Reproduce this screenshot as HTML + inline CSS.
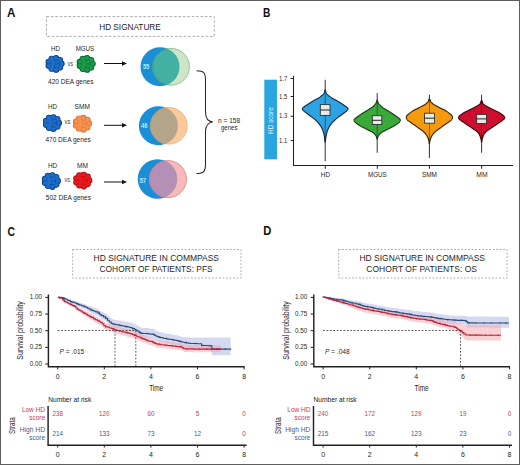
<!DOCTYPE html>
<html><head><meta charset="utf-8"><style>
html,body{margin:0;padding:0;background:#fff;}
svg{display:block;}
text{font-family:"Liberation Sans", sans-serif;}
</style></head><body>
<svg width="520" height="465" viewBox="0 0 520 465">
<rect x="0.5" y="0.5" width="519" height="464" fill="#fff" stroke="#5e5e5e" stroke-width="1"/>
<text x="7.00" y="16.60" font-size="12" fill="#111" font-weight="bold" textLength="8.40" lengthAdjust="spacingAndGlyphs" >A</text>
<text x="263.00" y="16.60" font-size="12" fill="#111" font-weight="bold" textLength="7.40" lengthAdjust="spacingAndGlyphs" >B</text>
<text x="7.50" y="235.90" font-size="12" fill="#111" font-weight="bold" textLength="7.50" lengthAdjust="spacingAndGlyphs" >C</text>
<text x="263.20" y="235.30" font-size="12" fill="#111" font-weight="bold" textLength="8.10" lengthAdjust="spacingAndGlyphs" >D</text>
<rect x="46.5" y="16.6" width="167.8" height="19.8" fill="none" stroke="#a4a4a4" stroke-width="0.9" stroke-dasharray="2.6 1.8"/>
<text x="99.20" y="29.60" font-size="9" fill="#262626" font-weight="normal" textLength="61.60" lengthAdjust="spacingAndGlyphs" >HD SIGNATURE</text>
<text x="51.00" y="51.00" font-size="7" fill="#262626" font-weight="normal" textLength="9.00" lengthAdjust="spacingAndGlyphs" >HD</text>
<text x="75.70" y="51.00" font-size="7" fill="#262626" font-weight="normal" textLength="18.50" lengthAdjust="spacingAndGlyphs" >MGUS</text>
<circle cx="48.70" cy="61.80" r="3.15" fill="#0a3a80"/><circle cx="51.60" cy="58.81" r="3.15" fill="#0a3a80"/><circle cx="56.05" cy="58.14" r="3.15" fill="#0a3a80"/><circle cx="59.96" cy="60.09" r="3.15" fill="#0a3a80"/><circle cx="61.50" cy="63.75" r="3.15" fill="#0a3a80"/><circle cx="59.96" cy="67.41" r="3.15" fill="#0a3a80"/><circle cx="56.10" cy="69.64" r="3.15" fill="#0a3a80"/><circle cx="51.60" cy="68.69" r="3.15" fill="#0a3a80"/><circle cx="48.70" cy="65.70" r="3.15" fill="#0a3a80"/><circle cx="52.70" cy="62.15" r="3.15" fill="#0a3a80"/><circle cx="57.10" cy="62.15" r="3.15" fill="#0a3a80"/><circle cx="52.70" cy="65.55" r="3.15" fill="#0a3a80"/><circle cx="57.10" cy="65.55" r="3.15" fill="#0a3a80"/><circle cx="54.90" cy="63.75" r="3.15" fill="#0a3a80"/><circle cx="48.70" cy="61.80" r="2.45" fill="#1c6fca"/><circle cx="51.60" cy="58.81" r="2.45" fill="#1c6fca"/><circle cx="56.05" cy="58.14" r="2.45" fill="#1c6fca"/><circle cx="59.96" cy="60.09" r="2.45" fill="#1c6fca"/><circle cx="61.50" cy="63.75" r="2.45" fill="#1c6fca"/><circle cx="59.96" cy="67.41" r="2.45" fill="#1c6fca"/><circle cx="56.10" cy="69.64" r="2.45" fill="#1c6fca"/><circle cx="51.60" cy="68.69" r="2.45" fill="#1c6fca"/><circle cx="48.70" cy="65.70" r="2.45" fill="#1c6fca"/><circle cx="52.70" cy="62.15" r="2.45" fill="#1c6fca"/><circle cx="57.10" cy="62.15" r="2.45" fill="#1c6fca"/><circle cx="52.70" cy="65.55" r="2.45" fill="#1c6fca"/><circle cx="57.10" cy="65.55" r="2.45" fill="#1c6fca"/><circle cx="54.90" cy="63.75" r="2.45" fill="#1c6fca"/><circle cx="48.70" cy="61.80" r="2.3" fill="none" stroke="#0a3a80" stroke-width="0.5" opacity="0.5"/><circle cx="56.05" cy="58.14" r="2.3" fill="none" stroke="#0a3a80" stroke-width="0.5" opacity="0.5"/><circle cx="61.50" cy="63.75" r="2.3" fill="none" stroke="#0a3a80" stroke-width="0.5" opacity="0.5"/><circle cx="56.10" cy="69.64" r="2.3" fill="none" stroke="#0a3a80" stroke-width="0.5" opacity="0.5"/><circle cx="48.70" cy="65.70" r="2.3" fill="none" stroke="#0a3a80" stroke-width="0.5" opacity="0.5"/><circle cx="57.10" cy="62.15" r="2.3" fill="none" stroke="#0a3a80" stroke-width="0.5" opacity="0.5"/><circle cx="57.10" cy="65.55" r="2.3" fill="none" stroke="#0a3a80" stroke-width="0.5" opacity="0.5"/>
<circle cx="79.80" cy="61.85" r="3.15" fill="#085a28"/><circle cx="82.70" cy="58.86" r="3.15" fill="#085a28"/><circle cx="87.15" cy="58.19" r="3.15" fill="#085a28"/><circle cx="91.06" cy="60.14" r="3.15" fill="#085a28"/><circle cx="92.60" cy="63.80" r="3.15" fill="#085a28"/><circle cx="91.06" cy="67.46" r="3.15" fill="#085a28"/><circle cx="87.20" cy="69.69" r="3.15" fill="#085a28"/><circle cx="82.70" cy="68.74" r="3.15" fill="#085a28"/><circle cx="79.80" cy="65.75" r="3.15" fill="#085a28"/><circle cx="83.80" cy="62.20" r="3.15" fill="#085a28"/><circle cx="88.20" cy="62.20" r="3.15" fill="#085a28"/><circle cx="83.80" cy="65.60" r="3.15" fill="#085a28"/><circle cx="88.20" cy="65.60" r="3.15" fill="#085a28"/><circle cx="86.00" cy="63.80" r="3.15" fill="#085a28"/><circle cx="79.80" cy="61.85" r="2.45" fill="#1a9c4a"/><circle cx="82.70" cy="58.86" r="2.45" fill="#1a9c4a"/><circle cx="87.15" cy="58.19" r="2.45" fill="#1a9c4a"/><circle cx="91.06" cy="60.14" r="2.45" fill="#1a9c4a"/><circle cx="92.60" cy="63.80" r="2.45" fill="#1a9c4a"/><circle cx="91.06" cy="67.46" r="2.45" fill="#1a9c4a"/><circle cx="87.20" cy="69.69" r="2.45" fill="#1a9c4a"/><circle cx="82.70" cy="68.74" r="2.45" fill="#1a9c4a"/><circle cx="79.80" cy="65.75" r="2.45" fill="#1a9c4a"/><circle cx="83.80" cy="62.20" r="2.45" fill="#1a9c4a"/><circle cx="88.20" cy="62.20" r="2.45" fill="#1a9c4a"/><circle cx="83.80" cy="65.60" r="2.45" fill="#1a9c4a"/><circle cx="88.20" cy="65.60" r="2.45" fill="#1a9c4a"/><circle cx="86.00" cy="63.80" r="2.45" fill="#1a9c4a"/><circle cx="79.80" cy="61.85" r="2.3" fill="none" stroke="#085a28" stroke-width="0.5" opacity="0.5"/><circle cx="87.15" cy="58.19" r="2.3" fill="none" stroke="#085a28" stroke-width="0.5" opacity="0.5"/><circle cx="92.60" cy="63.80" r="2.3" fill="none" stroke="#085a28" stroke-width="0.5" opacity="0.5"/><circle cx="87.20" cy="69.69" r="2.3" fill="none" stroke="#085a28" stroke-width="0.5" opacity="0.5"/><circle cx="79.80" cy="65.75" r="2.3" fill="none" stroke="#085a28" stroke-width="0.5" opacity="0.5"/><circle cx="88.20" cy="62.20" r="2.3" fill="none" stroke="#085a28" stroke-width="0.5" opacity="0.5"/><circle cx="88.20" cy="65.60" r="2.3" fill="none" stroke="#085a28" stroke-width="0.5" opacity="0.5"/>
<text x="67.40" y="66.20" font-size="7" fill="#444" font-weight="normal" textLength="5.60" lengthAdjust="spacingAndGlyphs" >vs</text>
<text x="48.00" y="84.40" font-size="7" fill="#262626" font-weight="normal" textLength="45.50" lengthAdjust="spacingAndGlyphs" >420 DEA genes</text>
<line x1="104" y1="63.5" x2="123" y2="63.5" stroke="#111" stroke-width="1"/>
<path d="M127,63.5 L122,61.2 L122,65.8 Z" fill="#111"/>
<defs><clipPath id="vc0"><circle cx="160.0" cy="66.8" r="19.5"/></clipPath></defs>
<circle cx="160.0" cy="66.8" r="19.5" fill="#1b8fd6"/>
<circle cx="171.0" cy="66.8" r="18.400000000000002" fill="#cfe5c9" stroke="#8cbc8c" stroke-width="0.9"/>
<circle cx="171.0" cy="66.8" r="18.400000000000002" fill="#44b0a4" stroke="#2a9a8e" stroke-width="0.9" clip-path="url(#vc0)"/>
<text x="142.90" y="69.20" font-size="7" fill="#b0eaff" font-weight="bold" textLength="6.40" lengthAdjust="spacingAndGlyphs" >55</text>
<text x="48.00" y="108.70" font-size="7" fill="#262626" font-weight="normal" textLength="9.00" lengthAdjust="spacingAndGlyphs" >HD</text>
<text x="74.60" y="108.70" font-size="7" fill="#262626" font-weight="normal" textLength="15.40" lengthAdjust="spacingAndGlyphs" >SMM</text>
<circle cx="46.10" cy="120.95" r="3.15" fill="#0a3a80"/><circle cx="49.00" cy="117.96" r="3.15" fill="#0a3a80"/><circle cx="53.45" cy="117.29" r="3.15" fill="#0a3a80"/><circle cx="57.36" cy="119.24" r="3.15" fill="#0a3a80"/><circle cx="58.90" cy="122.90" r="3.15" fill="#0a3a80"/><circle cx="57.36" cy="126.56" r="3.15" fill="#0a3a80"/><circle cx="53.50" cy="128.79" r="3.15" fill="#0a3a80"/><circle cx="49.00" cy="127.84" r="3.15" fill="#0a3a80"/><circle cx="46.10" cy="124.85" r="3.15" fill="#0a3a80"/><circle cx="50.10" cy="121.30" r="3.15" fill="#0a3a80"/><circle cx="54.50" cy="121.30" r="3.15" fill="#0a3a80"/><circle cx="50.10" cy="124.70" r="3.15" fill="#0a3a80"/><circle cx="54.50" cy="124.70" r="3.15" fill="#0a3a80"/><circle cx="52.30" cy="122.90" r="3.15" fill="#0a3a80"/><circle cx="46.10" cy="120.95" r="2.45" fill="#1c6fca"/><circle cx="49.00" cy="117.96" r="2.45" fill="#1c6fca"/><circle cx="53.45" cy="117.29" r="2.45" fill="#1c6fca"/><circle cx="57.36" cy="119.24" r="2.45" fill="#1c6fca"/><circle cx="58.90" cy="122.90" r="2.45" fill="#1c6fca"/><circle cx="57.36" cy="126.56" r="2.45" fill="#1c6fca"/><circle cx="53.50" cy="128.79" r="2.45" fill="#1c6fca"/><circle cx="49.00" cy="127.84" r="2.45" fill="#1c6fca"/><circle cx="46.10" cy="124.85" r="2.45" fill="#1c6fca"/><circle cx="50.10" cy="121.30" r="2.45" fill="#1c6fca"/><circle cx="54.50" cy="121.30" r="2.45" fill="#1c6fca"/><circle cx="50.10" cy="124.70" r="2.45" fill="#1c6fca"/><circle cx="54.50" cy="124.70" r="2.45" fill="#1c6fca"/><circle cx="52.30" cy="122.90" r="2.45" fill="#1c6fca"/><circle cx="46.10" cy="120.95" r="2.3" fill="none" stroke="#0a3a80" stroke-width="0.5" opacity="0.5"/><circle cx="53.45" cy="117.29" r="2.3" fill="none" stroke="#0a3a80" stroke-width="0.5" opacity="0.5"/><circle cx="58.90" cy="122.90" r="2.3" fill="none" stroke="#0a3a80" stroke-width="0.5" opacity="0.5"/><circle cx="53.50" cy="128.79" r="2.3" fill="none" stroke="#0a3a80" stroke-width="0.5" opacity="0.5"/><circle cx="46.10" cy="124.85" r="2.3" fill="none" stroke="#0a3a80" stroke-width="0.5" opacity="0.5"/><circle cx="54.50" cy="121.30" r="2.3" fill="none" stroke="#0a3a80" stroke-width="0.5" opacity="0.5"/><circle cx="54.50" cy="124.70" r="2.3" fill="none" stroke="#0a3a80" stroke-width="0.5" opacity="0.5"/>
<circle cx="76.10" cy="121.55" r="3.15" fill="#d96a2a"/><circle cx="79.00" cy="118.56" r="3.15" fill="#d96a2a"/><circle cx="83.45" cy="117.89" r="3.15" fill="#d96a2a"/><circle cx="87.36" cy="119.84" r="3.15" fill="#d96a2a"/><circle cx="88.90" cy="123.50" r="3.15" fill="#d96a2a"/><circle cx="87.36" cy="127.16" r="3.15" fill="#d96a2a"/><circle cx="83.50" cy="129.39" r="3.15" fill="#d96a2a"/><circle cx="79.00" cy="128.44" r="3.15" fill="#d96a2a"/><circle cx="76.10" cy="125.45" r="3.15" fill="#d96a2a"/><circle cx="80.10" cy="121.90" r="3.15" fill="#d96a2a"/><circle cx="84.50" cy="121.90" r="3.15" fill="#d96a2a"/><circle cx="80.10" cy="125.30" r="3.15" fill="#d96a2a"/><circle cx="84.50" cy="125.30" r="3.15" fill="#d96a2a"/><circle cx="82.30" cy="123.50" r="3.15" fill="#d96a2a"/><circle cx="76.10" cy="121.55" r="2.45" fill="#f7934f"/><circle cx="79.00" cy="118.56" r="2.45" fill="#f7934f"/><circle cx="83.45" cy="117.89" r="2.45" fill="#f7934f"/><circle cx="87.36" cy="119.84" r="2.45" fill="#f7934f"/><circle cx="88.90" cy="123.50" r="2.45" fill="#f7934f"/><circle cx="87.36" cy="127.16" r="2.45" fill="#f7934f"/><circle cx="83.50" cy="129.39" r="2.45" fill="#f7934f"/><circle cx="79.00" cy="128.44" r="2.45" fill="#f7934f"/><circle cx="76.10" cy="125.45" r="2.45" fill="#f7934f"/><circle cx="80.10" cy="121.90" r="2.45" fill="#f7934f"/><circle cx="84.50" cy="121.90" r="2.45" fill="#f7934f"/><circle cx="80.10" cy="125.30" r="2.45" fill="#f7934f"/><circle cx="84.50" cy="125.30" r="2.45" fill="#f7934f"/><circle cx="82.30" cy="123.50" r="2.45" fill="#f7934f"/><circle cx="76.10" cy="121.55" r="2.3" fill="none" stroke="#d96a2a" stroke-width="0.5" opacity="0.5"/><circle cx="83.45" cy="117.89" r="2.3" fill="none" stroke="#d96a2a" stroke-width="0.5" opacity="0.5"/><circle cx="88.90" cy="123.50" r="2.3" fill="none" stroke="#d96a2a" stroke-width="0.5" opacity="0.5"/><circle cx="83.50" cy="129.39" r="2.3" fill="none" stroke="#d96a2a" stroke-width="0.5" opacity="0.5"/><circle cx="76.10" cy="125.45" r="2.3" fill="none" stroke="#d96a2a" stroke-width="0.5" opacity="0.5"/><circle cx="84.50" cy="121.90" r="2.3" fill="none" stroke="#d96a2a" stroke-width="0.5" opacity="0.5"/><circle cx="84.50" cy="125.30" r="2.3" fill="none" stroke="#d96a2a" stroke-width="0.5" opacity="0.5"/>
<text x="64.60" y="123.60" font-size="7" fill="#444" font-weight="normal" textLength="5.90" lengthAdjust="spacingAndGlyphs" >vs</text>
<text x="45.40" y="142.20" font-size="7" fill="#262626" font-weight="normal" textLength="45.40" lengthAdjust="spacingAndGlyphs" >470 DEA genes</text>
<line x1="104" y1="125.3" x2="123" y2="125.3" stroke="#111" stroke-width="1"/>
<path d="M127,125.3 L122,123.0 L122,127.6 Z" fill="#111"/>
<defs><clipPath id="vc1"><circle cx="158.4" cy="125.8" r="19.5"/></clipPath></defs>
<circle cx="158.4" cy="125.8" r="19.5" fill="#1b8fd6"/>
<circle cx="168.9" cy="125.8" r="18.3" fill="#fcc99a" stroke="#f0b07e" stroke-width="0.9"/>
<circle cx="168.9" cy="125.8" r="18.3" fill="#b3a68a" stroke="#c09a7a" stroke-width="0.9" clip-path="url(#vc1)"/>
<text x="141.00" y="128.20" font-size="7" fill="#b0eaff" font-weight="bold" textLength="6.70" lengthAdjust="spacingAndGlyphs" >46</text>
<text x="48.00" y="167.90" font-size="7" fill="#262626" font-weight="normal" textLength="9.20" lengthAdjust="spacingAndGlyphs" >HD</text>
<text x="77.00" y="167.90" font-size="7" fill="#262626" font-weight="normal" textLength="11.00" lengthAdjust="spacingAndGlyphs" >MM</text>
<circle cx="45.00" cy="178.95" r="3.15" fill="#0a3a80"/><circle cx="47.90" cy="175.96" r="3.15" fill="#0a3a80"/><circle cx="52.35" cy="175.29" r="3.15" fill="#0a3a80"/><circle cx="56.26" cy="177.24" r="3.15" fill="#0a3a80"/><circle cx="57.80" cy="180.90" r="3.15" fill="#0a3a80"/><circle cx="56.26" cy="184.56" r="3.15" fill="#0a3a80"/><circle cx="52.40" cy="186.79" r="3.15" fill="#0a3a80"/><circle cx="47.90" cy="185.84" r="3.15" fill="#0a3a80"/><circle cx="45.00" cy="182.85" r="3.15" fill="#0a3a80"/><circle cx="49.00" cy="179.30" r="3.15" fill="#0a3a80"/><circle cx="53.40" cy="179.30" r="3.15" fill="#0a3a80"/><circle cx="49.00" cy="182.70" r="3.15" fill="#0a3a80"/><circle cx="53.40" cy="182.70" r="3.15" fill="#0a3a80"/><circle cx="51.20" cy="180.90" r="3.15" fill="#0a3a80"/><circle cx="45.00" cy="178.95" r="2.45" fill="#1c6fca"/><circle cx="47.90" cy="175.96" r="2.45" fill="#1c6fca"/><circle cx="52.35" cy="175.29" r="2.45" fill="#1c6fca"/><circle cx="56.26" cy="177.24" r="2.45" fill="#1c6fca"/><circle cx="57.80" cy="180.90" r="2.45" fill="#1c6fca"/><circle cx="56.26" cy="184.56" r="2.45" fill="#1c6fca"/><circle cx="52.40" cy="186.79" r="2.45" fill="#1c6fca"/><circle cx="47.90" cy="185.84" r="2.45" fill="#1c6fca"/><circle cx="45.00" cy="182.85" r="2.45" fill="#1c6fca"/><circle cx="49.00" cy="179.30" r="2.45" fill="#1c6fca"/><circle cx="53.40" cy="179.30" r="2.45" fill="#1c6fca"/><circle cx="49.00" cy="182.70" r="2.45" fill="#1c6fca"/><circle cx="53.40" cy="182.70" r="2.45" fill="#1c6fca"/><circle cx="51.20" cy="180.90" r="2.45" fill="#1c6fca"/><circle cx="45.00" cy="178.95" r="2.3" fill="none" stroke="#0a3a80" stroke-width="0.5" opacity="0.5"/><circle cx="52.35" cy="175.29" r="2.3" fill="none" stroke="#0a3a80" stroke-width="0.5" opacity="0.5"/><circle cx="57.80" cy="180.90" r="2.3" fill="none" stroke="#0a3a80" stroke-width="0.5" opacity="0.5"/><circle cx="52.40" cy="186.79" r="2.3" fill="none" stroke="#0a3a80" stroke-width="0.5" opacity="0.5"/><circle cx="45.00" cy="182.85" r="2.3" fill="none" stroke="#0a3a80" stroke-width="0.5" opacity="0.5"/><circle cx="53.40" cy="179.30" r="2.3" fill="none" stroke="#0a3a80" stroke-width="0.5" opacity="0.5"/><circle cx="53.40" cy="182.70" r="2.3" fill="none" stroke="#0a3a80" stroke-width="0.5" opacity="0.5"/>
<circle cx="76.40" cy="178.45" r="3.15" fill="#a00a10"/><circle cx="79.30" cy="175.46" r="3.15" fill="#a00a10"/><circle cx="83.75" cy="174.79" r="3.15" fill="#a00a10"/><circle cx="87.66" cy="176.74" r="3.15" fill="#a00a10"/><circle cx="89.20" cy="180.40" r="3.15" fill="#a00a10"/><circle cx="87.66" cy="184.06" r="3.15" fill="#a00a10"/><circle cx="83.80" cy="186.29" r="3.15" fill="#a00a10"/><circle cx="79.30" cy="185.34" r="3.15" fill="#a00a10"/><circle cx="76.40" cy="182.35" r="3.15" fill="#a00a10"/><circle cx="80.40" cy="178.80" r="3.15" fill="#a00a10"/><circle cx="84.80" cy="178.80" r="3.15" fill="#a00a10"/><circle cx="80.40" cy="182.20" r="3.15" fill="#a00a10"/><circle cx="84.80" cy="182.20" r="3.15" fill="#a00a10"/><circle cx="82.60" cy="180.40" r="3.15" fill="#a00a10"/><circle cx="76.40" cy="178.45" r="2.45" fill="#ec1a1e"/><circle cx="79.30" cy="175.46" r="2.45" fill="#ec1a1e"/><circle cx="83.75" cy="174.79" r="2.45" fill="#ec1a1e"/><circle cx="87.66" cy="176.74" r="2.45" fill="#ec1a1e"/><circle cx="89.20" cy="180.40" r="2.45" fill="#ec1a1e"/><circle cx="87.66" cy="184.06" r="2.45" fill="#ec1a1e"/><circle cx="83.80" cy="186.29" r="2.45" fill="#ec1a1e"/><circle cx="79.30" cy="185.34" r="2.45" fill="#ec1a1e"/><circle cx="76.40" cy="182.35" r="2.45" fill="#ec1a1e"/><circle cx="80.40" cy="178.80" r="2.45" fill="#ec1a1e"/><circle cx="84.80" cy="178.80" r="2.45" fill="#ec1a1e"/><circle cx="80.40" cy="182.20" r="2.45" fill="#ec1a1e"/><circle cx="84.80" cy="182.20" r="2.45" fill="#ec1a1e"/><circle cx="82.60" cy="180.40" r="2.45" fill="#ec1a1e"/><circle cx="76.40" cy="178.45" r="2.3" fill="none" stroke="#a00a10" stroke-width="0.5" opacity="0.5"/><circle cx="83.75" cy="174.79" r="2.3" fill="none" stroke="#a00a10" stroke-width="0.5" opacity="0.5"/><circle cx="89.20" cy="180.40" r="2.3" fill="none" stroke="#a00a10" stroke-width="0.5" opacity="0.5"/><circle cx="83.80" cy="186.29" r="2.3" fill="none" stroke="#a00a10" stroke-width="0.5" opacity="0.5"/><circle cx="76.40" cy="182.35" r="2.3" fill="none" stroke="#a00a10" stroke-width="0.5" opacity="0.5"/><circle cx="84.80" cy="178.80" r="2.3" fill="none" stroke="#a00a10" stroke-width="0.5" opacity="0.5"/><circle cx="84.80" cy="182.20" r="2.3" fill="none" stroke="#a00a10" stroke-width="0.5" opacity="0.5"/>
<text x="64.60" y="182.40" font-size="7" fill="#444" font-weight="normal" textLength="5.40" lengthAdjust="spacingAndGlyphs" >vs</text>
<text x="45.80" y="200.40" font-size="7" fill="#262626" font-weight="normal" textLength="45.20" lengthAdjust="spacingAndGlyphs" >502 DEA genes</text>
<line x1="104" y1="182.0" x2="123" y2="182.0" stroke="#111" stroke-width="1"/>
<path d="M127,182.0 L122,179.7 L122,184.3 Z" fill="#111"/>
<defs><clipPath id="vc2"><circle cx="157.5" cy="179.0" r="19.8"/></clipPath></defs>
<circle cx="157.5" cy="179.0" r="19.8" fill="#1b8fd6"/>
<circle cx="168.0" cy="179.1" r="18.5" fill="#f8b9ba" stroke="#e08a8c" stroke-width="0.9"/>
<circle cx="168.0" cy="179.1" r="18.5" fill="#b48fb6" stroke="#c8789a" stroke-width="0.9" clip-path="url(#vc2)"/>
<text x="139.50" y="183.00" font-size="7" fill="#b0eaff" font-weight="bold" textLength="6.70" lengthAdjust="spacingAndGlyphs" >57</text>
<path d="M196.6,70.8 C203.5,70.8 205.5,72.5 205.5,80 L205.5,112 C205.5,118 207.5,121.5 212.8,121.9 C207.5,122.3 205.5,126 205.5,132 L205.5,164 C205.5,171.5 203.5,173.5 196.6,173.5" fill="none" stroke="#2a2a2a" stroke-width="1.05"/>
<text x="218.00" y="123.30" font-size="6.5" fill="#262626" font-weight="normal" textLength="22.20" lengthAdjust="spacingAndGlyphs" >n = 158</text>
<text x="221.00" y="130.30" font-size="6.5" fill="#262626" font-weight="normal" textLength="16.50" lengthAdjust="spacingAndGlyphs" >genes</text>
<rect x="264.3" y="79.7" width="12.7" height="79.6" fill="#29a6df"/>
<text transform="translate(273.30,133.90) rotate(-90)" x="0" y="0" font-size="6.3" fill="#e6f6ff" textLength="26.70" lengthAdjust="spacingAndGlyphs">HD score</text>
<path d="M293.5,75.8 L293.5,165.5 L513,165.5" fill="none" stroke="#222" stroke-width="1.05"/>
<line x1="290.6" y1="78.5" x2="293.5" y2="78.5" stroke="#222" stroke-width="1"/>
<text x="279.00" y="80.50" font-size="6.5" fill="#262626" font-weight="normal" textLength="8.20" lengthAdjust="spacingAndGlyphs" >1.7</text>
<line x1="290.6" y1="96.5" x2="293.5" y2="96.5" stroke="#222" stroke-width="1"/>
<text x="279.00" y="98.50" font-size="6.5" fill="#262626" font-weight="normal" textLength="8.20" lengthAdjust="spacingAndGlyphs" >1.5</text>
<line x1="290.6" y1="116.3" x2="293.5" y2="116.3" stroke="#222" stroke-width="1"/>
<text x="279.00" y="118.30" font-size="6.5" fill="#262626" font-weight="normal" textLength="8.20" lengthAdjust="spacingAndGlyphs" >1.3</text>
<line x1="290.6" y1="140.6" x2="293.5" y2="140.6" stroke="#222" stroke-width="1"/>
<text x="279.00" y="142.60" font-size="6.5" fill="#262626" font-weight="normal" textLength="8.20" lengthAdjust="spacingAndGlyphs" >1.1</text>
<line x1="325.3" y1="165.5" x2="325.3" y2="168.8" stroke="#222" stroke-width="1"/>
<text x="320.80" y="177.30" font-size="6.5" fill="#262626" font-weight="normal" textLength="9.20" lengthAdjust="spacingAndGlyphs" >HD</text>
<line x1="377.3" y1="165.5" x2="377.3" y2="168.8" stroke="#222" stroke-width="1"/>
<text x="368.00" y="177.30" font-size="6.5" fill="#262626" font-weight="normal" textLength="18.60" lengthAdjust="spacingAndGlyphs" >MGUS</text>
<line x1="429.4" y1="165.5" x2="429.4" y2="168.8" stroke="#222" stroke-width="1"/>
<text x="421.90" y="177.30" font-size="6.5" fill="#262626" font-weight="normal" textLength="15.10" lengthAdjust="spacingAndGlyphs" >SMM</text>
<line x1="481.7" y1="165.5" x2="481.7" y2="168.8" stroke="#222" stroke-width="1"/>
<text x="476.30" y="177.30" font-size="6.5" fill="#262626" font-weight="normal" textLength="11.20" lengthAdjust="spacingAndGlyphs" >MM</text>
<line x1="325.2" y1="79.8" x2="325.2" y2="161.3" stroke="#333" stroke-width="1"/>
<path d="M325.40,90.00 L325.41,90.06 L325.43,90.14 L325.45,90.24 L325.47,90.34 L325.49,90.46 L325.52,90.60 L325.56,90.74 L325.60,90.90 L325.64,91.07 L325.69,91.27 L325.74,91.48 L325.79,91.70 L325.86,91.93 L325.93,92.16 L326.01,92.38 L326.10,92.60 L326.20,92.81 L326.31,93.02 L326.43,93.24 L326.56,93.45 L326.70,93.66 L326.85,93.87 L327.02,94.09 L327.20,94.30 L327.40,94.51 L327.61,94.72 L327.83,94.93 L328.07,95.14 L328.32,95.36 L328.57,95.57 L328.83,95.78 L329.10,96.00 L329.37,96.22 L329.65,96.45 L329.93,96.67 L330.22,96.90 L330.53,97.13 L330.84,97.35 L331.16,97.58 L331.50,97.80 L331.85,98.02 L332.23,98.23 L332.61,98.44 L333.01,98.66 L333.41,98.87 L333.81,99.08 L334.21,99.29 L334.60,99.50 L334.99,99.71 L335.37,99.92 L335.76,100.12 L336.14,100.33 L336.53,100.54 L336.92,100.75 L337.31,100.97 L337.70,101.20 L338.10,101.43 L338.50,101.68 L338.90,101.92 L339.30,102.17 L339.70,102.43 L340.10,102.69 L340.50,102.94 L340.90,103.20 L341.29,103.46 L341.69,103.72 L342.08,103.99 L342.47,104.26 L342.86,104.52 L343.25,104.79 L343.63,105.05 L344.00,105.30 L344.38,105.55 L344.76,105.80 L345.14,106.04 L345.52,106.29 L345.88,106.53 L346.22,106.76 L346.53,106.98 L346.80,107.20 L347.04,107.41 L347.25,107.61 L347.44,107.80 L347.61,107.99 L347.74,108.17 L347.86,108.35 L347.94,108.52 L348.00,108.70 L348.03,108.87 L348.02,109.03 L347.98,109.19 L347.92,109.35 L347.84,109.51 L347.74,109.67 L347.62,109.83 L347.50,110.00 L347.37,110.17 L347.23,110.34 L347.08,110.51 L346.91,110.69 L346.72,110.87 L346.51,111.06 L346.27,111.27 L346.00,111.50 L345.69,111.75 L345.34,112.01 L344.96,112.30 L344.56,112.59 L344.15,112.89 L343.73,113.19 L343.31,113.50 L342.90,113.80 L342.49,114.11 L342.08,114.42 L341.66,114.74 L341.23,115.06 L340.81,115.38 L340.39,115.70 L339.99,116.01 L339.60,116.30 L339.22,116.58 L338.86,116.85 L338.50,117.12 L338.15,117.38 L337.81,117.63 L337.47,117.88 L337.13,118.14 L336.80,118.40 L336.47,118.66 L336.15,118.92 L335.83,119.17 L335.51,119.43 L335.20,119.69 L334.90,119.95 L334.60,120.22 L334.30,120.50 L334.01,120.79 L333.72,121.08 L333.44,121.38 L333.16,121.68 L332.89,121.99 L332.62,122.29 L332.36,122.60 L332.10,122.90 L331.85,123.20 L331.60,123.49 L331.35,123.79 L331.11,124.08 L330.88,124.38 L330.65,124.68 L330.42,124.99 L330.20,125.30 L329.98,125.62 L329.77,125.95 L329.56,126.29 L329.36,126.62 L329.16,126.97 L328.96,127.31 L328.78,127.66 L328.60,128.00 L328.43,128.35 L328.26,128.70 L328.10,129.05 L327.95,129.40 L327.80,129.75 L327.66,130.10 L327.53,130.45 L327.40,130.80 L327.28,131.14 L327.17,131.48 L327.06,131.82 L326.96,132.15 L326.86,132.48 L326.77,132.82 L326.69,133.16 L326.60,133.50 L326.52,133.85 L326.44,134.20 L326.37,134.55 L326.30,134.90 L326.23,135.25 L326.17,135.60 L326.11,135.95 L326.05,136.30 L325.99,136.64 L325.94,136.98 L325.88,137.32 L325.83,137.65 L325.78,137.98 L325.74,138.32 L325.69,138.66 L325.65,139.00 L325.61,139.36 L325.57,139.76 L325.53,140.17 L325.50,140.57 L325.47,140.95 L325.44,141.29 L325.42,141.58 L325.40,141.80 L325.00,141.80 L324.98,141.58 L324.96,141.29 L324.93,140.95 L324.90,140.57 L324.87,140.17 L324.83,139.76 L324.79,139.36 L324.75,139.00 L324.71,138.66 L324.66,138.32 L324.62,137.98 L324.57,137.65 L324.52,137.32 L324.46,136.98 L324.41,136.64 L324.35,136.30 L324.29,135.95 L324.23,135.60 L324.17,135.25 L324.10,134.90 L324.03,134.55 L323.96,134.20 L323.88,133.85 L323.80,133.50 L323.71,133.16 L323.63,132.82 L323.54,132.48 L323.44,132.15 L323.34,131.82 L323.23,131.48 L323.12,131.14 L323.00,130.80 L322.87,130.45 L322.74,130.10 L322.60,129.75 L322.45,129.40 L322.30,129.05 L322.14,128.70 L321.97,128.35 L321.80,128.00 L321.62,127.66 L321.44,127.31 L321.24,126.97 L321.04,126.62 L320.84,126.29 L320.63,125.95 L320.42,125.62 L320.20,125.30 L319.98,124.99 L319.75,124.68 L319.52,124.38 L319.29,124.08 L319.05,123.79 L318.80,123.49 L318.55,123.20 L318.30,122.90 L318.04,122.60 L317.78,122.29 L317.51,121.99 L317.24,121.68 L316.96,121.38 L316.68,121.08 L316.39,120.79 L316.10,120.50 L315.80,120.22 L315.50,119.95 L315.20,119.69 L314.89,119.43 L314.57,119.17 L314.25,118.92 L313.93,118.66 L313.60,118.40 L313.27,118.14 L312.93,117.88 L312.59,117.63 L312.25,117.38 L311.90,117.12 L311.54,116.85 L311.18,116.58 L310.80,116.30 L310.41,116.01 L310.01,115.70 L309.59,115.38 L309.17,115.06 L308.74,114.74 L308.32,114.42 L307.91,114.11 L307.50,113.80 L307.09,113.50 L306.67,113.19 L306.25,112.89 L305.84,112.59 L305.44,112.30 L305.06,112.01 L304.71,111.75 L304.40,111.50 L304.13,111.27 L303.89,111.06 L303.68,110.87 L303.49,110.69 L303.32,110.51 L303.17,110.34 L303.03,110.17 L302.90,110.00 L302.78,109.83 L302.66,109.67 L302.56,109.51 L302.48,109.35 L302.42,109.19 L302.38,109.03 L302.37,108.87 L302.40,108.70 L302.46,108.52 L302.54,108.35 L302.66,108.17 L302.79,107.99 L302.96,107.80 L303.15,107.61 L303.36,107.41 L303.60,107.20 L303.87,106.98 L304.18,106.76 L304.52,106.53 L304.88,106.29 L305.26,106.04 L305.64,105.80 L306.02,105.55 L306.40,105.30 L306.77,105.05 L307.15,104.79 L307.54,104.52 L307.93,104.26 L308.32,103.99 L308.71,103.72 L309.11,103.46 L309.50,103.20 L309.90,102.94 L310.30,102.69 L310.70,102.43 L311.10,102.17 L311.50,101.92 L311.90,101.68 L312.30,101.43 L312.70,101.20 L313.09,100.97 L313.48,100.75 L313.87,100.54 L314.26,100.33 L314.64,100.12 L315.03,99.92 L315.41,99.71 L315.80,99.50 L316.19,99.29 L316.59,99.08 L316.99,98.87 L317.39,98.66 L317.79,98.44 L318.17,98.23 L318.55,98.02 L318.90,97.80 L319.24,97.58 L319.56,97.35 L319.87,97.13 L320.18,96.90 L320.47,96.67 L320.75,96.45 L321.03,96.22 L321.30,96.00 L321.57,95.78 L321.83,95.57 L322.08,95.36 L322.33,95.14 L322.57,94.93 L322.79,94.72 L323.00,94.51 L323.20,94.30 L323.38,94.09 L323.55,93.87 L323.70,93.66 L323.84,93.45 L323.97,93.24 L324.09,93.02 L324.20,92.81 L324.30,92.60 L324.39,92.38 L324.47,92.16 L324.54,91.93 L324.61,91.70 L324.66,91.48 L324.71,91.27 L324.76,91.07 L324.80,90.90 L324.84,90.74 L324.88,90.60 L324.91,90.46 L324.93,90.34 L324.95,90.24 L324.97,90.14 L324.99,90.06 L325.00,90.00 Z" fill="#2ea3e3" stroke="#152a40" stroke-width="1.15"/>
<line x1="325.2" y1="90" x2="325.2" y2="141.8" stroke="#152a40" stroke-width="0.7" opacity="0.8"/>
<rect x="320.3" y="104.6" width="9.699999999999989" height="10.800000000000011" fill="#e9eae8" stroke="#262a2e" stroke-width="0.85"/>
<line x1="320.3" y1="110.0" x2="330.0" y2="110.0" stroke="#2a2224" stroke-width="1.0"/>
<line x1="377.2" y1="93.1" x2="377.2" y2="152.8" stroke="#333" stroke-width="1"/>
<path d="M377.40,100.30 L377.42,100.35 L377.44,100.41 L377.47,100.48 L377.50,100.56 L377.53,100.66 L377.57,100.76 L377.61,100.87 L377.65,101.00 L377.69,101.14 L377.74,101.30 L377.79,101.47 L377.84,101.66 L377.90,101.84 L377.96,102.03 L378.03,102.22 L378.10,102.40 L378.18,102.57 L378.26,102.75 L378.35,102.92 L378.45,103.09 L378.55,103.27 L378.66,103.44 L378.77,103.62 L378.90,103.80 L379.04,103.98 L379.19,104.17 L379.34,104.36 L379.51,104.54 L379.68,104.73 L379.85,104.92 L380.02,105.11 L380.20,105.30 L380.36,105.48 L380.52,105.66 L380.66,105.83 L380.82,106.00 L380.99,106.18 L381.19,106.37 L381.42,106.57 L381.70,106.80 L382.02,107.04 L382.38,107.30 L382.77,107.57 L383.19,107.86 L383.64,108.15 L384.11,108.46 L384.60,108.77 L385.10,109.10 L385.63,109.44 L386.20,109.80 L386.80,110.17 L387.42,110.56 L388.05,110.94 L388.67,111.33 L389.30,111.72 L389.90,112.10 L390.50,112.48 L391.10,112.85 L391.70,113.23 L392.30,113.61 L392.89,113.98 L393.48,114.36 L394.05,114.73 L394.60,115.10 L395.15,115.48 L395.71,115.87 L396.27,116.27 L396.81,116.66 L397.32,117.03 L397.80,117.39 L398.23,117.71 L398.60,118.00 L398.91,118.24 L399.16,118.44 L399.36,118.61 L399.53,118.76 L399.67,118.90 L399.79,119.03 L399.90,119.16 L400.00,119.30 L400.10,119.45 L400.17,119.59 L400.23,119.73 L400.27,119.86 L400.29,120.00 L400.31,120.13 L400.31,120.26 L400.30,120.40 L400.28,120.54 L400.25,120.67 L400.20,120.80 L400.14,120.94 L400.07,121.07 L399.99,121.21 L399.90,121.35 L399.80,121.50 L399.70,121.64 L399.62,121.77 L399.53,121.90 L399.43,122.04 L399.29,122.19 L399.12,122.36 L398.89,122.56 L398.60,122.80 L398.24,123.09 L397.82,123.41 L397.35,123.77 L396.83,124.14 L396.28,124.53 L395.71,124.93 L395.11,125.32 L394.50,125.70 L393.86,126.07 L393.19,126.45 L392.48,126.82 L391.75,127.20 L391.01,127.58 L390.26,127.95 L389.52,128.33 L388.80,128.70 L388.06,129.08 L387.30,129.46 L386.51,129.86 L385.74,130.24 L384.99,130.62 L384.29,130.98 L383.65,131.31 L383.10,131.60 L382.64,131.85 L382.27,132.07 L381.95,132.27 L381.69,132.44 L381.45,132.60 L381.24,132.76 L381.03,132.92 L380.80,133.10 L380.57,133.29 L380.36,133.48 L380.16,133.67 L379.97,133.86 L379.79,134.04 L379.62,134.23 L379.46,134.42 L379.30,134.60 L379.15,134.78 L379.01,134.95 L378.87,135.13 L378.74,135.30 L378.62,135.47 L378.51,135.65 L378.40,135.82 L378.30,136.00 L378.20,136.18 L378.11,136.37 L378.03,136.56 L377.96,136.74 L377.89,136.93 L377.82,137.12 L377.76,137.31 L377.70,137.50 L377.65,137.70 L377.60,137.91 L377.55,138.13 L377.51,138.34 L377.48,138.55 L377.45,138.73 L377.42,138.88 L377.40,139.00 L377.00,139.00 L376.98,138.88 L376.95,138.73 L376.92,138.55 L376.89,138.34 L376.85,138.13 L376.80,137.91 L376.75,137.70 L376.70,137.50 L376.64,137.31 L376.58,137.12 L376.51,136.93 L376.44,136.74 L376.37,136.56 L376.29,136.37 L376.20,136.18 L376.10,136.00 L376.00,135.82 L375.89,135.65 L375.78,135.47 L375.66,135.30 L375.53,135.13 L375.39,134.95 L375.25,134.78 L375.10,134.60 L374.94,134.42 L374.78,134.23 L374.61,134.04 L374.43,133.86 L374.24,133.67 L374.04,133.48 L373.83,133.29 L373.60,133.10 L373.37,132.92 L373.16,132.76 L372.95,132.60 L372.71,132.44 L372.45,132.27 L372.13,132.07 L371.76,131.85 L371.30,131.60 L370.75,131.31 L370.11,130.98 L369.41,130.62 L368.66,130.24 L367.89,129.86 L367.10,129.46 L366.34,129.08 L365.60,128.70 L364.88,128.33 L364.14,127.95 L363.39,127.58 L362.65,127.20 L361.92,126.82 L361.21,126.45 L360.54,126.07 L359.90,125.70 L359.29,125.32 L358.69,124.93 L358.12,124.53 L357.57,124.14 L357.05,123.77 L356.58,123.41 L356.16,123.09 L355.80,122.80 L355.51,122.56 L355.28,122.36 L355.11,122.19 L354.97,122.04 L354.87,121.90 L354.78,121.77 L354.70,121.64 L354.60,121.50 L354.50,121.35 L354.41,121.21 L354.33,121.07 L354.26,120.94 L354.20,120.80 L354.15,120.67 L354.12,120.54 L354.10,120.40 L354.09,120.26 L354.09,120.13 L354.11,120.00 L354.13,119.86 L354.17,119.73 L354.23,119.59 L354.30,119.45 L354.40,119.30 L354.50,119.16 L354.61,119.03 L354.73,118.90 L354.87,118.76 L355.04,118.61 L355.24,118.44 L355.49,118.24 L355.80,118.00 L356.17,117.71 L356.60,117.39 L357.08,117.03 L357.59,116.66 L358.13,116.27 L358.69,115.87 L359.25,115.48 L359.80,115.10 L360.35,114.73 L360.92,114.36 L361.51,113.98 L362.10,113.61 L362.70,113.23 L363.30,112.85 L363.90,112.48 L364.50,112.10 L365.10,111.72 L365.73,111.33 L366.35,110.94 L366.98,110.56 L367.60,110.17 L368.20,109.80 L368.77,109.44 L369.30,109.10 L369.80,108.77 L370.29,108.46 L370.76,108.15 L371.21,107.86 L371.63,107.57 L372.02,107.30 L372.38,107.04 L372.70,106.80 L372.98,106.57 L373.21,106.37 L373.41,106.18 L373.58,106.00 L373.74,105.83 L373.88,105.66 L374.04,105.48 L374.20,105.30 L374.38,105.11 L374.55,104.92 L374.72,104.73 L374.89,104.54 L375.06,104.36 L375.21,104.17 L375.36,103.98 L375.50,103.80 L375.63,103.62 L375.74,103.44 L375.85,103.27 L375.95,103.09 L376.05,102.92 L376.14,102.75 L376.22,102.57 L376.30,102.40 L376.37,102.22 L376.44,102.03 L376.50,101.84 L376.56,101.66 L376.61,101.47 L376.66,101.30 L376.71,101.14 L376.75,101.00 L376.79,100.87 L376.83,100.76 L376.87,100.66 L376.90,100.56 L376.93,100.48 L376.96,100.41 L376.98,100.35 L377.00,100.30 Z" fill="#3aa83a" stroke="#173a17" stroke-width="1.15"/>
<line x1="377.2" y1="100.3" x2="377.2" y2="139" stroke="#173a17" stroke-width="0.7" opacity="0.8"/>
<rect x="372.3" y="115.7" width="9.5" height="8.799999999999997" fill="#e9eae8" stroke="#262a2e" stroke-width="0.85"/>
<line x1="372.3" y1="120.3" x2="381.8" y2="120.3" stroke="#2a2224" stroke-width="1.0"/>
<line x1="429.4" y1="94.7" x2="429.4" y2="158.1" stroke="#333" stroke-width="1"/>
<path d="M429.60,99.00 L429.62,99.05 L429.64,99.12 L429.67,99.19 L429.70,99.28 L429.73,99.38 L429.77,99.48 L429.81,99.59 L429.85,99.70 L429.89,99.82 L429.94,99.94 L429.99,100.08 L430.05,100.22 L430.10,100.36 L430.17,100.51 L430.23,100.65 L430.30,100.80 L430.37,100.95 L430.45,101.09 L430.52,101.24 L430.60,101.39 L430.69,101.55 L430.78,101.70 L430.89,101.85 L431.00,102.00 L431.12,102.15 L431.26,102.30 L431.40,102.45 L431.54,102.59 L431.70,102.74 L431.86,102.89 L432.03,103.05 L432.20,103.20 L432.35,103.35 L432.48,103.48 L432.59,103.60 L432.72,103.73 L432.89,103.88 L433.11,104.05 L433.41,104.25 L433.80,104.50 L434.30,104.80 L434.90,105.15 L435.58,105.53 L436.31,105.94 L437.08,106.36 L437.86,106.78 L438.64,107.20 L439.40,107.60 L440.15,107.98 L440.94,108.36 L441.73,108.74 L442.54,109.11 L443.34,109.49 L444.12,109.88 L444.88,110.28 L445.60,110.70 L446.31,111.15 L447.01,111.63 L447.71,112.13 L448.39,112.63 L449.03,113.13 L449.62,113.59 L450.15,114.02 L450.60,114.40 L450.97,114.72 L451.27,114.99 L451.51,115.23 L451.69,115.44 L451.84,115.64 L451.97,115.82 L452.09,116.01 L452.20,116.20 L452.31,116.39 L452.39,116.58 L452.44,116.75 L452.48,116.93 L452.50,117.09 L452.51,117.26 L452.51,117.43 L452.50,117.60 L452.48,117.77 L452.45,117.94 L452.41,118.11 L452.36,118.28 L452.29,118.45 L452.21,118.63 L452.11,118.81 L452.00,119.00 L451.90,119.18 L451.83,119.34 L451.75,119.50 L451.66,119.67 L451.52,119.86 L451.31,120.09 L451.01,120.36 L450.60,120.70 L450.05,121.11 L449.39,121.59 L448.62,122.12 L447.79,122.68 L446.93,123.27 L446.06,123.86 L445.20,124.44 L444.40,125.00 L443.61,125.56 L442.78,126.15 L441.95,126.76 L441.12,127.36 L440.32,127.94 L439.57,128.48 L438.89,128.97 L438.30,129.40 L437.81,129.75 L437.41,130.03 L437.07,130.26 L436.79,130.46 L436.54,130.63 L436.30,130.80 L436.06,130.99 L435.80,131.20 L435.53,131.43 L435.27,131.67 L435.03,131.91 L434.79,132.14 L434.56,132.38 L434.33,132.62 L434.11,132.86 L433.90,133.10 L433.69,133.34 L433.49,133.57 L433.29,133.81 L433.10,134.05 L432.92,134.29 L432.74,134.53 L432.57,134.76 L432.40,135.00 L432.24,135.23 L432.09,135.46 L431.95,135.69 L431.82,135.91 L431.69,136.14 L431.56,136.38 L431.43,136.63 L431.30,136.90 L431.17,137.18 L431.03,137.48 L430.90,137.79 L430.77,138.11 L430.64,138.44 L430.52,138.76 L430.40,139.08 L430.30,139.40 L430.21,139.72 L430.12,140.05 L430.05,140.38 L429.97,140.71 L429.91,141.03 L429.85,141.34 L429.80,141.63 L429.75,141.90 L429.71,142.15 L429.67,142.40 L429.64,142.64 L429.62,142.86 L429.59,143.06 L429.58,143.23 L429.56,143.38 L429.55,143.50 L429.25,143.50 L429.24,143.38 L429.22,143.23 L429.21,143.06 L429.18,142.86 L429.16,142.64 L429.13,142.40 L429.09,142.15 L429.05,141.90 L429.00,141.63 L428.95,141.34 L428.89,141.03 L428.82,140.71 L428.75,140.38 L428.68,140.05 L428.59,139.72 L428.50,139.40 L428.40,139.08 L428.28,138.76 L428.16,138.44 L428.03,138.11 L427.90,137.79 L427.77,137.48 L427.63,137.18 L427.50,136.90 L427.37,136.63 L427.24,136.38 L427.11,136.14 L426.98,135.91 L426.85,135.69 L426.71,135.46 L426.56,135.23 L426.40,135.00 L426.23,134.76 L426.06,134.53 L425.88,134.29 L425.70,134.05 L425.51,133.81 L425.31,133.57 L425.11,133.34 L424.90,133.10 L424.69,132.86 L424.47,132.62 L424.24,132.38 L424.01,132.14 L423.77,131.91 L423.53,131.67 L423.27,131.43 L423.00,131.20 L422.74,130.99 L422.50,130.80 L422.26,130.63 L422.01,130.46 L421.73,130.26 L421.39,130.03 L420.99,129.75 L420.50,129.40 L419.91,128.97 L419.23,128.48 L418.48,127.94 L417.68,127.36 L416.85,126.76 L416.02,126.15 L415.19,125.56 L414.40,125.00 L413.60,124.44 L412.74,123.86 L411.87,123.27 L411.01,122.68 L410.18,122.12 L409.41,121.59 L408.75,121.11 L408.20,120.70 L407.79,120.36 L407.49,120.09 L407.28,119.86 L407.14,119.67 L407.05,119.50 L406.97,119.34 L406.90,119.18 L406.80,119.00 L406.69,118.81 L406.59,118.63 L406.51,118.45 L406.44,118.28 L406.39,118.11 L406.35,117.94 L406.32,117.77 L406.30,117.60 L406.29,117.43 L406.29,117.26 L406.30,117.09 L406.32,116.93 L406.36,116.75 L406.41,116.58 L406.49,116.39 L406.60,116.20 L406.71,116.01 L406.83,115.82 L406.96,115.64 L407.11,115.44 L407.29,115.23 L407.53,114.99 L407.83,114.72 L408.20,114.40 L408.65,114.02 L409.18,113.59 L409.77,113.13 L410.41,112.63 L411.09,112.13 L411.79,111.63 L412.49,111.15 L413.20,110.70 L413.92,110.28 L414.68,109.88 L415.46,109.49 L416.26,109.11 L417.07,108.74 L417.86,108.36 L418.65,107.98 L419.40,107.60 L420.16,107.20 L420.94,106.78 L421.72,106.36 L422.49,105.94 L423.22,105.53 L423.90,105.15 L424.50,104.80 L425.00,104.50 L425.39,104.25 L425.69,104.05 L425.91,103.88 L426.07,103.73 L426.21,103.60 L426.32,103.48 L426.45,103.35 L426.60,103.20 L426.77,103.05 L426.94,102.89 L427.10,102.74 L427.26,102.59 L427.40,102.45 L427.54,102.30 L427.68,102.15 L427.80,102.00 L427.91,101.85 L428.02,101.70 L428.11,101.55 L428.20,101.39 L428.28,101.24 L428.35,101.09 L428.43,100.95 L428.50,100.80 L428.57,100.65 L428.63,100.51 L428.70,100.36 L428.75,100.22 L428.81,100.08 L428.86,99.94 L428.91,99.82 L428.95,99.70 L428.99,99.59 L429.03,99.48 L429.07,99.38 L429.10,99.28 L429.13,99.19 L429.16,99.12 L429.18,99.05 L429.20,99.00 Z" fill="#f59a0c" stroke="#3a2406" stroke-width="1.15"/>
<line x1="429.4" y1="99" x2="429.4" y2="143.5" stroke="#3a2406" stroke-width="0.7" opacity="0.8"/>
<rect x="424.6" y="113.2" width="9.799999999999955" height="10.0" fill="#e9eae8" stroke="#262a2e" stroke-width="0.85"/>
<line x1="424.6" y1="118.2" x2="434.4" y2="118.2" stroke="#2a2224" stroke-width="1.0"/>
<line x1="481.6" y1="94.7" x2="481.6" y2="152.8" stroke="#333" stroke-width="1"/>
<path d="M481.80,100.50 L481.82,100.57 L481.84,100.65 L481.87,100.76 L481.90,100.87 L481.93,101.00 L481.97,101.13 L482.01,101.27 L482.05,101.40 L482.09,101.54 L482.14,101.68 L482.19,101.83 L482.25,101.98 L482.30,102.14 L482.37,102.29 L482.43,102.45 L482.50,102.60 L482.57,102.75 L482.64,102.90 L482.71,103.05 L482.79,103.20 L482.88,103.35 L482.97,103.50 L483.08,103.65 L483.20,103.80 L483.34,103.95 L483.49,104.10 L483.65,104.25 L483.82,104.39 L484.00,104.54 L484.19,104.69 L484.39,104.85 L484.60,105.00 L484.79,105.14 L484.96,105.27 L485.12,105.40 L485.30,105.52 L485.52,105.67 L485.79,105.84 L486.14,106.05 L486.60,106.30 L487.17,106.61 L487.85,106.97 L488.61,107.37 L489.43,107.79 L490.28,108.22 L491.14,108.66 L491.99,109.09 L492.80,109.50 L493.60,109.89 L494.41,110.28 L495.24,110.67 L496.06,111.06 L496.87,111.44 L497.66,111.83 L498.40,112.21 L499.10,112.60 L499.76,113.00 L500.42,113.42 L501.04,113.85 L501.64,114.28 L502.19,114.69 L502.69,115.07 L503.13,115.41 L503.50,115.70 L503.78,115.93 L503.99,116.10 L504.12,116.23 L504.21,116.34 L504.26,116.42 L504.30,116.51 L504.34,116.59 L504.40,116.70 L504.47,116.82 L504.54,116.92 L504.59,117.03 L504.64,117.14 L504.67,117.24 L504.70,117.36 L504.70,117.47 L504.70,117.60 L504.68,117.73 L504.65,117.88 L504.61,118.02 L504.56,118.17 L504.49,118.33 L504.41,118.49 L504.31,118.64 L504.20,118.80 L504.10,118.94 L504.03,119.05 L503.95,119.15 L503.86,119.26 L503.72,119.39 L503.51,119.56 L503.21,119.79 L502.80,120.10 L502.26,120.49 L501.62,120.95 L500.88,121.46 L500.08,122.02 L499.22,122.60 L498.35,123.21 L497.47,123.81 L496.60,124.40 L495.70,125.01 L494.72,125.68 L493.70,126.36 L492.68,127.06 L491.68,127.73 L490.74,128.36 L489.90,128.92 L489.20,129.40 L488.64,129.78 L488.19,130.07 L487.84,130.30 L487.55,130.49 L487.31,130.66 L487.08,130.82 L486.85,130.99 L486.60,131.20 L486.33,131.43 L486.08,131.67 L485.84,131.91 L485.61,132.14 L485.40,132.38 L485.19,132.62 L484.99,132.86 L484.80,133.10 L484.62,133.34 L484.45,133.57 L484.28,133.81 L484.13,134.05 L483.99,134.29 L483.85,134.53 L483.72,134.76 L483.60,135.00 L483.49,135.24 L483.39,135.47 L483.30,135.71 L483.21,135.95 L483.13,136.19 L483.06,136.43 L482.98,136.66 L482.90,136.90 L482.82,137.14 L482.74,137.38 L482.66,137.62 L482.58,137.86 L482.51,138.09 L482.43,138.33 L482.36,138.57 L482.30,138.80 L482.24,139.03 L482.18,139.27 L482.12,139.50 L482.07,139.73 L482.02,139.96 L481.98,140.18 L481.94,140.39 L481.90,140.60 L481.87,140.80 L481.84,141.01 L481.82,141.22 L481.80,141.41 L481.78,141.60 L481.77,141.76 L481.76,141.89 L481.75,142.00 L481.45,142.00 L481.44,141.89 L481.43,141.76 L481.42,141.60 L481.40,141.41 L481.38,141.22 L481.36,141.01 L481.33,140.80 L481.30,140.60 L481.26,140.39 L481.22,140.18 L481.18,139.96 L481.13,139.73 L481.08,139.50 L481.02,139.27 L480.96,139.03 L480.90,138.80 L480.84,138.57 L480.77,138.33 L480.69,138.09 L480.62,137.86 L480.54,137.62 L480.46,137.38 L480.38,137.14 L480.30,136.90 L480.22,136.66 L480.14,136.43 L480.07,136.19 L479.99,135.95 L479.90,135.71 L479.81,135.47 L479.71,135.24 L479.60,135.00 L479.48,134.76 L479.35,134.53 L479.21,134.29 L479.07,134.05 L478.92,133.81 L478.75,133.57 L478.58,133.34 L478.40,133.10 L478.21,132.86 L478.01,132.62 L477.80,132.38 L477.59,132.14 L477.36,131.91 L477.12,131.67 L476.87,131.43 L476.60,131.20 L476.35,130.99 L476.12,130.82 L475.89,130.66 L475.65,130.49 L475.36,130.30 L475.01,130.07 L474.56,129.78 L474.00,129.40 L473.30,128.92 L472.46,128.36 L471.52,127.73 L470.53,127.06 L469.50,126.36 L468.48,125.68 L467.50,125.01 L466.60,124.40 L465.73,123.81 L464.85,123.21 L463.98,122.60 L463.12,122.02 L462.32,121.46 L461.58,120.95 L460.94,120.49 L460.40,120.10 L459.99,119.79 L459.69,119.56 L459.48,119.39 L459.34,119.26 L459.25,119.15 L459.17,119.05 L459.10,118.94 L459.00,118.80 L458.89,118.64 L458.79,118.49 L458.71,118.33 L458.64,118.17 L458.59,118.02 L458.55,117.88 L458.52,117.73 L458.50,117.60 L458.50,117.47 L458.50,117.36 L458.53,117.24 L458.56,117.14 L458.61,117.03 L458.66,116.92 L458.73,116.82 L458.80,116.70 L458.86,116.59 L458.90,116.51 L458.94,116.42 L458.99,116.34 L459.08,116.23 L459.21,116.10 L459.42,115.93 L459.70,115.70 L460.07,115.41 L460.51,115.07 L461.01,114.69 L461.56,114.28 L462.16,113.85 L462.78,113.42 L463.44,113.00 L464.10,112.60 L464.80,112.21 L465.54,111.83 L466.33,111.44 L467.14,111.06 L467.96,110.67 L468.79,110.28 L469.60,109.89 L470.40,109.50 L471.21,109.09 L472.06,108.66 L472.92,108.22 L473.77,107.79 L474.59,107.37 L475.35,106.97 L476.03,106.61 L476.60,106.30 L477.06,106.05 L477.41,105.84 L477.68,105.67 L477.90,105.52 L478.08,105.40 L478.24,105.27 L478.41,105.14 L478.60,105.00 L478.81,104.85 L479.01,104.69 L479.20,104.54 L479.38,104.39 L479.55,104.25 L479.71,104.10 L479.86,103.95 L480.00,103.80 L480.12,103.65 L480.23,103.50 L480.32,103.35 L480.41,103.20 L480.49,103.05 L480.56,102.90 L480.63,102.75 L480.70,102.60 L480.77,102.45 L480.83,102.29 L480.90,102.14 L480.95,101.98 L481.01,101.83 L481.06,101.68 L481.11,101.54 L481.15,101.40 L481.19,101.27 L481.23,101.13 L481.27,101.00 L481.30,100.87 L481.33,100.76 L481.36,100.65 L481.38,100.57 L481.40,100.50 Z" fill="#cd0e2c" stroke="#3e0610" stroke-width="1.15"/>
<line x1="481.6" y1="100.5" x2="481.6" y2="142" stroke="#3e0610" stroke-width="0.7" opacity="0.8"/>
<rect x="476.7" y="114.4" width="9.800000000000011" height="9.0" fill="#e9eae8" stroke="#262a2e" stroke-width="0.85"/>
<line x1="476.7" y1="118.9" x2="486.5" y2="118.9" stroke="#2a2224" stroke-width="1.0"/>
<rect x="72.70" y="249.5" width="168.3" height="28.5" fill="none" stroke="#a4a4a4" stroke-width="0.9" stroke-dasharray="1.8 1.7"/>
<text x="93.60" y="261.30" font-size="8.3" fill="#262626" font-weight="normal" textLength="125.40" lengthAdjust="spacingAndGlyphs" >HD SIGNATURE IN COMMPASS</text>
<text x="99.50" y="271.50" font-size="8.3" fill="#262626" font-weight="normal" textLength="113.20" lengthAdjust="spacingAndGlyphs" >COHORT OF PATIENTS: PFS</text>
<path d="M57.90,297.00 L59.27,297.00 L59.27,297.00 L61.07,297.00 L61.07,297.00 L62.71,297.00 L62.71,297.00 L63.75,297.00 L63.75,297.47 L64.76,297.47 L64.76,297.87 L65.81,297.87 L65.81,298.21 L67.31,298.21 L67.31,299.06 L68.43,299.06 L68.43,299.34 L70.19,299.34 L70.19,300.27 L71.89,300.27 L71.89,300.60 L74.10,300.60 L74.10,301.10 L76.16,301.10 L76.16,301.73 L77.30,301.73 L77.30,301.99 L78.66,301.99 L78.66,302.60 L79.85,302.60 L79.85,302.92 L81.63,302.92 L81.63,303.43 L83.29,303.43 L83.29,303.88 L84.32,303.88 L84.32,304.26 L86.15,304.26 L86.15,304.96 L87.52,304.96 L87.52,305.62 L89.06,305.62 L89.06,306.22 L91.03,306.22 L91.03,307.10 L92.31,307.10 L92.31,307.48 L93.94,307.48 L93.94,308.10 L95.83,308.10 L95.83,308.55 L98.05,308.55 L98.05,309.70 L99.54,309.70 L99.54,310.71 L100.70,310.71 L100.70,311.25 L101.71,311.25 L101.71,311.87 L103.64,311.87 L103.64,312.98 L105.73,312.98 L105.73,314.37 L107.58,314.37 L107.58,316.17 L109.28,316.17 L109.28,317.72 L111.31,317.72 L111.31,319.12 L112.88,319.12 L112.88,319.60 L113.92,319.60 L113.92,319.81 L115.71,319.81 L115.71,320.21 L117.72,320.21 L117.72,320.34 L119.17,320.34 L119.17,320.70 L120.16,320.70 L120.16,320.79 L121.34,320.79 L121.34,320.87 L122.37,320.87 L122.37,321.22 L123.50,321.22 L123.50,321.24 L124.96,321.24 L124.96,321.66 L126.02,321.66 L126.02,321.72 L127.68,321.72 L127.68,322.13 L129.69,322.13 L129.69,322.47 L131.01,322.47 L131.01,322.75 L132.43,322.75 L132.43,323.56 L134.61,323.56 L134.61,324.37 L135.80,324.37 L135.80,324.96 L137.06,324.96 L137.06,325.74 L138.77,325.74 L138.77,326.71 L139.74,326.71 L139.74,327.34 L141.17,327.34 L141.17,328.03 L143.35,328.03 L143.35,328.11 L144.97,328.11 L144.97,328.12 L146.80,328.12 L146.80,328.12 L148.91,328.12 L148.91,328.45 L150.99,328.49 L150.99,328.68 L152.45,328.70 L152.45,328.72 L153.54,328.73 L153.54,329.34 L154.58,329.35 L154.58,329.81 L155.81,329.83 L155.81,330.60 L157.20,330.62 L157.20,331.19 L158.16,331.21 L158.16,331.49 L159.25,331.50 L159.25,331.85 L160.25,331.87 L160.25,332.28 L161.99,332.30 L161.99,332.54 L163.27,332.56 L163.27,332.95 L164.70,332.97 L164.70,333.23 L166.75,333.26 L166.75,333.84 L168.30,333.86 L168.30,333.95 L169.37,333.97 L169.37,334.02 L170.77,334.04 L170.77,334.31 L172.79,334.34 L172.79,334.63 L173.78,334.64 L173.78,335.04 L175.42,335.06 L175.42,335.22 L177.07,335.25 L177.07,335.62 L178.71,335.65 L178.71,336.34 L180.78,336.34 L180.78,336.71 L182.07,336.71 L182.07,336.78 L183.24,336.78 L183.24,337.02 L184.89,337.02 L184.89,337.18 L186.27,337.18 L186.27,337.18 L188.27,337.18 L188.27,337.56 L190.32,337.56 L190.32,337.56 L192.32,337.56 L192.32,337.56 L193.57,337.56 L193.57,337.56 L194.99,337.56 L194.99,337.56 L195.99,337.56 L195.99,337.56 L197.28,337.56 L197.28,337.56 L199.46,337.56 L199.46,337.56 L201.62,337.56 L201.62,337.56 L203.80,337.56 L203.80,337.56 L205.05,337.56 L205.05,337.56 L206.26,337.56 L206.26,337.56 L208.02,337.56 L208.02,337.56 L210.05,337.56 L210.05,337.56 L211.85,337.56 L211.85,337.56 L212.92,337.56 L212.92,337.56 L215.04,337.56 L215.04,337.56 L216.96,337.56 L216.96,337.56 L218.15,337.56 L218.15,337.56 L219.54,337.56 L219.54,337.56 L221.74,337.56 L221.74,337.56 L223.21,337.56 L223.21,337.56 L225.10,337.56 L225.10,337.56 L226.22,337.56 L226.22,337.56 L228.34,337.56 L228.34,337.56 L229.49,337.56 L229.49,337.56 L230.60,337.56 L230.60,337.56 L230.60,355.33 L230.60,355.33 L229.49,355.33 L229.49,355.33 L228.34,355.33 L228.34,355.33 L226.22,355.33 L226.22,355.33 L225.10,355.33 L225.10,355.33 L223.21,355.33 L223.21,355.29 L221.74,355.29 L221.74,355.29 L219.54,355.29 L219.54,355.29 L218.15,355.29 L218.15,355.29 L216.96,355.29 L216.96,355.29 L215.04,355.29 L215.04,355.29 L212.92,355.29 L212.92,355.29 L211.85,355.29 L211.85,352.01 L210.05,350.61 L210.05,350.61 L208.02,350.59 L208.02,350.30 L206.26,350.28 L206.26,350.23 L205.05,350.22 L205.05,350.20 L203.80,350.19 L203.80,350.14 L201.62,350.12 L201.62,348.44 L199.46,348.42 L199.46,348.40 L197.28,348.38 L197.28,348.20 L195.99,348.18 L195.99,348.16 L194.99,348.15 L194.99,348.15 L193.57,348.14 L193.57,348.14 L192.32,348.13 L192.32,348.06 L190.32,348.04 L190.32,347.88 L188.27,347.86 L188.27,347.27 L186.27,347.25 L186.27,347.16 L184.89,347.15 L184.89,346.85 L183.24,346.83 L183.24,346.50 L182.07,346.48 L182.07,346.30 L180.78,346.29 L180.78,345.86 L178.71,345.85 L178.71,345.16 L177.07,345.15 L177.07,344.78 L175.42,344.77 L175.42,344.61 L173.78,344.60 L173.78,344.20 L172.79,344.20 L172.79,343.91 L170.77,343.90 L170.77,343.63 L169.37,343.63 L169.37,343.57 L168.30,343.57 L168.30,343.48 L166.75,343.47 L166.75,342.89 L164.70,342.87 L164.70,342.62 L163.27,342.61 L163.27,342.22 L161.99,342.21 L161.99,341.98 L160.25,341.97 L160.25,341.56 L159.25,341.55 L159.25,341.20 L158.16,341.20 L158.16,340.92 L157.20,340.91 L157.20,340.34 L155.81,340.33 L155.81,339.56 L154.58,339.56 L154.58,339.10 L153.54,339.09 L153.54,338.49 L152.45,338.48 L152.45,338.47 L150.99,338.46 L150.99,338.27 L148.91,338.25 L148.91,337.85 L146.80,337.83 L146.80,337.83 L144.97,337.82 L144.97,337.77 L143.35,337.76 L143.35,337.62 L141.17,337.60 L141.17,336.87 L139.74,336.86 L139.74,336.21 L138.77,336.20 L138.77,335.19 L137.06,335.18 L137.06,334.36 L135.80,334.35 L135.80,333.74 L134.61,333.73 L134.61,332.86 L132.43,332.84 L132.43,331.99 L131.01,331.98 L131.01,331.67 L129.69,331.66 L129.69,331.25 L127.68,331.20 L127.68,330.73 L126.02,330.69 L126.02,330.60 L124.96,330.57 L124.96,330.10 L123.50,330.07 L123.50,330.01 L122.37,329.99 L122.37,329.59 L121.34,329.57 L121.34,329.45 L120.16,329.43 L120.16,329.30 L119.17,329.28 L119.17,328.87 L117.72,328.84 L117.72,328.63 L115.71,328.59 L115.71,328.13 L113.92,328.09 L113.92,327.84 L112.88,327.82 L112.88,327.29 L111.31,327.25 L111.31,325.74 L109.28,325.70 L109.28,324.04 L107.58,324.00 L107.58,322.07 L105.73,322.02 L105.73,320.49 L103.64,320.44 L103.64,319.19 L101.71,319.15 L101.71,318.47 L100.70,318.44 L100.70,317.82 L99.54,317.79 L99.54,316.68 L98.05,316.65 L98.05,315.34 L95.83,315.29 L95.83,314.71 L93.94,314.66 L93.94,313.93 L92.31,313.89 L92.31,313.42 L91.03,313.39 L91.03,312.37 L89.06,312.28 L89.06,311.56 L87.52,311.44 L87.52,310.68 L86.15,310.58 L86.15,309.74 L84.32,309.60 L84.32,309.14 L83.29,309.06 L83.29,308.49 L81.63,308.37 L81.63,307.71 L79.85,307.58 L79.85,307.17 L78.66,307.09 L78.66,306.37 L77.30,306.27 L77.30,305.92 L76.16,305.84 L76.16,305.05 L74.10,304.87 L74.10,304.20 L71.89,303.96 L71.89,303.50 L70.19,303.33 L70.19,302.25 L68.43,302.06 L68.43,301.70 L67.31,301.58 L67.31,300.62 L65.81,300.46 L65.81,300.04 L64.76,299.93 L64.76,299.45 L63.75,299.34 L63.75,298.78 L62.71,298.67 L62.71,298.44 L61.07,298.27 L61.07,298.14 L59.27,297.95 L59.27,297.94 L57.90,297.80 Z" fill="#b8bfe6" opacity="0.6"/>
<path d="M57.90,297.00 L59.31,297.00 L59.31,297.35 L60.44,297.35 L60.44,297.46 L62.64,297.46 L62.64,299.00 L64.27,299.00 L64.27,300.38 L65.79,300.38 L65.79,301.11 L67.81,301.11 L67.81,301.91 L69.09,301.91 L69.09,302.41 L70.36,302.41 L70.36,302.92 L71.65,302.92 L71.65,303.30 L72.78,303.30 L72.78,303.82 L74.19,303.82 L74.19,304.45 L75.90,304.45 L75.90,305.89 L77.39,305.89 L77.39,307.05 L79.00,307.05 L79.00,307.95 L80.63,307.95 L80.63,308.65 L82.15,308.65 L82.15,309.50 L83.11,309.50 L83.11,310.19 L84.29,310.19 L84.29,310.71 L86.18,310.71 L86.18,311.70 L87.56,311.70 L87.56,312.31 L89.23,312.31 L89.23,313.14 L90.33,313.14 L90.33,313.61 L91.61,313.61 L91.61,314.27 L93.55,314.27 L93.55,315.48 L95.23,315.48 L95.23,316.53 L97.36,316.53 L97.36,317.53 L99.10,317.53 L99.10,318.40 L100.72,318.40 L100.72,319.25 L102.26,319.25 L102.26,320.46 L103.83,320.46 L103.83,322.39 L105.69,322.39 L105.69,323.40 L107.85,323.40 L107.85,323.84 L109.53,323.84 L109.53,324.53 L111.56,324.53 L111.56,324.92 L112.68,324.92 L112.68,325.37 L113.73,325.37 L113.73,325.64 L114.79,325.64 L114.79,326.10 L116.75,326.10 L116.75,326.79 L117.91,326.79 L117.91,327.11 L119.71,327.11 L119.71,327.37 L121.80,327.37 L121.80,327.97 L123.04,327.97 L123.04,328.18 L124.51,328.18 L124.51,328.29 L126.74,328.29 L126.74,328.99 L127.91,328.99 L127.91,329.19 L129.53,329.19 L129.53,329.61 L130.74,329.61 L130.74,329.98 L132.62,329.99 L132.62,330.65 L134.29,330.66 L134.29,331.45 L135.27,331.46 L135.27,331.81 L137.03,331.82 L137.03,332.58 L138.07,332.59 L138.07,333.15 L140.04,333.16 L140.04,333.95 L141.14,333.96 L141.14,334.19 L142.15,334.20 L142.15,334.76 L143.45,334.76 L143.45,335.09 L144.96,335.10 L144.96,335.92 L146.96,335.94 L146.96,336.54 L148.11,336.54 L148.11,337.14 L149.81,337.15 L149.81,337.52 L150.88,337.53 L150.88,337.62 L152.72,337.64 L152.72,338.49 L153.77,338.50 L153.77,339.07 L155.55,339.08 L155.55,339.76 L156.61,339.76 L156.61,340.19 L157.66,340.19 L157.66,340.39 L159.20,340.39 L159.20,340.52 L160.87,340.53 L160.87,341.01 L162.17,341.01 L162.17,341.01 L163.80,341.02 L163.80,341.35 L164.90,341.36 L164.90,341.48 L165.93,341.49 L165.93,341.61 L167.29,341.61 L167.29,341.79 L169.22,341.80 L169.22,342.00 L170.82,342.00 L170.82,342.14 L172.22,342.15 L172.22,342.24 L173.50,342.25 L173.50,342.38 L175.40,342.40 L175.40,342.78 L176.61,342.78 L176.61,342.90 L178.76,342.91 L178.76,343.05 L180.77,343.05 L180.77,343.38 L182.36,343.38 L182.36,344.26 L183.83,344.26 L183.83,345.06 L185.67,345.06 L185.67,345.24 L187.07,345.24 L187.07,345.24 L188.93,345.24 L188.93,345.24 L190.41,345.24 L190.41,345.24 L191.44,345.24 L191.44,345.24 L192.49,345.24 L192.49,345.28 L193.78,345.28 L193.78,345.28 L194.84,345.28 L194.84,345.30 L196.92,345.30 L196.92,345.30 L198.24,345.30 L198.24,345.30 L199.57,345.30 L199.57,345.30 L200.74,345.30 L200.74,345.30 L202.03,345.30 L202.03,345.30 L204.24,345.30 L204.24,345.30 L205.51,345.30 L205.51,345.30 L206.87,345.30 L206.87,345.30 L207.83,345.30 L207.83,345.30 L209.40,345.30 L209.40,345.30 L210.61,345.30 L210.61,345.30 L211.58,345.30 L211.58,345.30 L212.65,345.30 L212.65,345.30 L213.67,345.30 L213.67,345.30 L215.02,345.30 L215.02,345.30 L216.73,345.30 L216.73,345.30 L218.65,345.30 L218.65,345.30 L220.52,345.30 L220.52,345.30 L221.00,345.30 L221.00,345.30 L221.00,352.23 L221.00,352.23 L220.52,352.23 L220.52,352.23 L218.65,352.23 L218.65,352.23 L216.73,352.23 L216.73,352.23 L215.02,352.23 L215.02,352.23 L213.67,352.23 L213.67,352.23 L212.65,352.23 L212.65,352.23 L211.58,352.23 L211.58,352.23 L210.61,352.23 L210.61,352.23 L209.40,352.23 L209.40,352.23 L207.83,352.23 L207.83,352.23 L206.87,352.23 L206.87,352.23 L205.51,352.23 L205.51,352.23 L204.24,352.23 L204.24,352.23 L202.03,352.23 L202.03,352.23 L200.74,352.23 L200.74,352.23 L199.57,352.23 L199.57,352.23 L198.24,352.23 L198.24,352.23 L196.92,352.23 L196.92,352.23 L194.84,352.23 L194.84,352.20 L193.78,352.20 L193.78,352.20 L192.49,352.20 L192.49,352.09 L191.44,352.09 L191.44,352.09 L190.41,352.09 L190.41,352.09 L188.93,352.09 L188.93,352.09 L187.07,352.09 L187.07,352.09 L185.67,352.09 L185.67,351.89 L183.83,351.89 L183.83,351.08 L182.36,351.08 L182.36,350.19 L180.77,350.19 L180.77,349.89 L178.76,349.89 L178.76,349.78 L176.61,349.78 L176.61,349.69 L175.40,349.69 L175.40,349.35 L173.50,349.35 L173.50,349.24 L172.22,349.24 L172.22,349.17 L170.82,349.17 L170.82,349.06 L169.22,349.06 L169.22,348.90 L167.29,348.90 L167.29,348.75 L165.93,348.75 L165.93,348.65 L164.90,348.65 L164.90,348.55 L163.80,348.55 L163.80,348.28 L162.17,348.28 L162.17,348.28 L160.87,348.28 L160.87,347.83 L159.20,347.83 L159.20,347.74 L157.66,347.74 L157.66,347.57 L156.61,347.57 L156.61,347.16 L155.55,347.16 L155.55,346.52 L153.77,346.52 L153.77,345.96 L152.72,345.96 L152.72,345.15 L150.88,345.15 L150.88,345.07 L149.81,345.07 L149.81,344.73 L148.11,344.73 L148.11,344.14 L146.96,344.14 L146.96,343.55 L144.96,343.55 L144.96,342.73 L143.45,342.73 L143.45,342.41 L142.15,342.41 L142.15,341.86 L141.14,341.86 L141.14,341.64 L140.04,341.64 L140.04,340.86 L138.07,340.86 L138.07,340.30 L137.03,340.30 L137.03,339.55 L135.27,339.55 L135.27,339.20 L134.29,339.20 L134.29,338.42 L132.62,338.42 L132.62,337.78 L130.74,337.78 L130.74,337.39 L129.53,337.39 L129.53,336.95 L127.91,336.94 L127.91,336.72 L126.74,336.71 L126.74,335.96 L124.51,335.95 L124.51,335.81 L123.04,335.81 L123.04,335.57 L121.80,335.57 L121.80,334.92 L119.71,334.91 L119.71,334.61 L117.91,334.60 L117.91,334.27 L116.75,334.26 L116.75,333.53 L114.79,333.52 L114.79,333.04 L113.73,333.03 L113.73,332.74 L112.68,332.73 L112.68,332.26 L111.56,332.26 L111.56,331.83 L109.53,331.80 L109.53,331.08 L107.85,331.00 L107.85,330.52 L105.69,330.42 L105.69,329.37 L103.83,329.29 L103.83,327.32 L102.26,327.25 L102.26,326.01 L100.72,325.94 L100.72,325.07 L99.10,324.99 L99.10,324.09 L97.36,324.01 L97.36,322.97 L95.23,322.87 L95.23,321.78 L93.55,321.71 L93.55,320.46 L91.61,320.37 L91.61,319.69 L90.33,319.63 L90.33,319.10 L89.23,319.02 L89.23,318.07 L87.56,317.94 L87.56,317.23 L86.18,317.12 L86.18,316.00 L84.29,315.85 L84.29,315.24 L83.11,315.15 L83.11,314.39 L82.15,314.31 L82.15,313.35 L80.63,313.23 L80.63,312.41 L79.00,312.29 L79.00,311.27 L77.39,311.14 L77.39,309.87 L75.90,309.75 L75.90,308.17 L74.19,308.04 L74.19,307.28 L72.78,307.17 L72.78,306.55 L71.65,306.46 L71.65,305.96 L70.36,305.86 L70.36,305.23 L69.09,305.13 L69.09,304.51 L67.81,304.41 L67.81,303.42 L65.79,303.26 L65.79,302.39 L64.27,302.27 L64.27,300.74 L62.64,300.61 L62.64,298.87 L60.44,298.70 L60.44,298.48 L59.31,298.39 L59.31,297.91 L57.90,297.80 Z" fill="#f3a4ac" opacity="0.5"/>
<path d="M57.90,297.40 L59.27,297.40 L59.27,297.41 L61.07,297.41 L61.07,297.54 L62.71,297.54 L62.71,297.77 L63.75,297.77 L63.75,298.33 L64.76,298.33 L64.76,298.81 L65.81,298.81 L65.81,299.23 L67.31,299.23 L67.31,300.19 L68.43,300.19 L68.43,300.56 L70.19,300.56 L70.19,301.63 L71.89,301.63 L71.89,302.09 L74.10,302.09 L74.10,302.76 L76.16,302.76 L76.16,303.56 L77.30,303.56 L77.30,303.91 L78.66,303.91 L78.66,304.62 L79.85,304.62 L79.85,305.03 L81.63,305.03 L81.63,305.68 L83.29,305.68 L83.29,306.26 L84.32,306.26 L84.32,306.72 L86.15,306.72 L86.15,307.56 L87.52,307.56 L87.52,308.32 L89.06,308.32 L89.06,309.05 L91.03,309.05 L91.03,310.07 L92.31,310.07 L92.31,310.54 L93.94,310.54 L93.94,311.27 L95.83,311.27 L95.83,311.86 L98.05,311.86 L98.05,313.16 L99.54,313.16 L99.54,314.27 L100.70,314.27 L100.70,314.90 L101.71,314.90 L101.71,315.59 L103.64,315.59 L103.64,316.83 L105.73,316.83 L105.73,318.37 L107.58,318.37 L107.58,320.30 L109.28,320.30 L109.28,321.96 L111.31,321.96 L111.31,323.47 L112.88,323.47 L112.88,324.00 L113.92,324.00 L113.92,324.25 L115.71,324.25 L115.71,324.71 L117.72,324.71 L117.72,324.91 L119.17,324.91 L119.17,325.32 L120.16,325.32 L120.16,325.45 L121.34,325.45 L121.34,325.57 L122.37,325.57 L122.37,325.96 L123.50,325.96 L123.50,326.02 L124.96,326.02 L124.96,326.49 L126.02,326.49 L126.02,326.58 L127.68,326.58 L127.68,327.05 L129.69,327.05 L129.69,327.46 L131.01,327.46 L131.01,327.78 L132.43,327.78 L132.43,328.63 L134.61,328.63 L134.61,329.50 L135.80,329.50 L135.80,330.12 L137.06,330.12 L137.06,330.94 L138.77,330.94 L138.77,331.95 L139.74,331.95 L139.74,332.61 L141.17,332.61 L141.17,333.34 L143.35,333.34 L143.35,333.48 L144.97,333.48 L144.97,333.53 L146.80,333.53 L146.80,333.53 L148.91,333.53 L148.91,333.94 L150.99,333.94 L150.99,334.13 L152.45,334.13 L152.45,334.15 L153.54,334.15 L153.54,334.75 L154.58,334.75 L154.58,335.21 L155.81,335.21 L155.81,335.98 L157.20,335.98 L157.20,336.55 L158.16,336.55 L158.16,336.83 L159.25,336.83 L159.25,337.17 L160.25,337.17 L160.25,337.59 L161.99,337.59 L161.99,337.82 L163.27,337.82 L163.27,338.21 L164.70,338.21 L164.70,338.47 L166.75,338.47 L166.75,339.05 L168.30,339.05 L168.30,339.14 L169.37,339.14 L169.37,339.19 L170.77,339.19 L170.77,339.46 L172.79,339.46 L172.79,339.74 L173.78,339.74 L173.78,340.13 L175.42,340.13 L175.42,340.29 L177.07,340.29 L177.07,340.67 L178.71,340.67 L178.71,341.36 L180.78,341.36 L180.78,341.78 L182.07,341.78 L182.07,341.96 L183.24,341.96 L183.24,342.30 L184.89,342.30 L184.89,342.60 L186.27,342.60 L186.27,342.68 L188.27,342.68 L188.27,343.28 L190.32,343.28 L190.32,343.44 L192.32,343.44 L192.32,343.51 L193.57,343.51 L193.57,343.51 L194.99,343.51 L194.99,343.51 L195.99,343.51 L195.99,343.53 L197.28,343.53 L197.28,343.71 L199.46,343.71 L199.46,343.73 L201.62,343.73 L201.62,345.41 L203.80,345.41 L203.80,345.46 L205.05,345.46 L205.05,345.47 L206.26,345.47 L206.26,345.52 L208.02,345.52 L208.02,345.81 L210.05,345.81 L210.05,345.81 L211.85,345.81 L211.85,349.09 L212.92,349.09 L212.92,349.09 L215.04,349.09 L215.04,349.09 L216.96,349.09 L216.96,349.09 L218.15,349.09 L218.15,349.09 L219.54,349.09 L219.54,349.09 L221.74,349.09 L221.74,349.09 L223.21,349.09 L223.21,349.13 L225.10,349.13 L225.10,349.13 L226.22,349.13 L226.22,349.13 L228.34,349.13 L228.34,349.13 L229.49,349.13 L229.49,349.13 L230.60,349.13 L230.60,349.13" fill="none" stroke="#2d4f78" stroke-width="1.1"/>
<path d="M57.90,297.40 L59.31,297.40 L59.31,297.88 L60.44,297.88 L60.44,298.10 L62.64,298.10 L62.64,299.84 L64.27,299.84 L64.27,301.37 L65.79,301.37 L65.79,302.25 L67.81,302.25 L67.81,303.24 L69.09,303.24 L69.09,303.86 L70.36,303.86 L70.36,304.49 L71.65,304.49 L71.65,304.99 L72.78,304.99 L72.78,305.61 L74.19,305.61 L74.19,306.37 L75.90,306.37 L75.90,307.95 L77.39,307.95 L77.39,309.23 L79.00,309.23 L79.00,310.24 L80.63,310.24 L80.63,311.06 L82.15,311.06 L82.15,312.02 L83.11,312.02 L83.11,312.79 L84.29,312.79 L84.29,313.39 L86.18,313.39 L86.18,314.52 L87.56,314.52 L87.56,315.23 L89.23,315.23 L89.23,316.18 L90.33,316.18 L90.33,316.72 L91.61,316.72 L91.61,317.40 L93.55,317.40 L93.55,318.65 L95.23,318.65 L95.23,319.74 L97.36,319.74 L97.36,320.78 L99.10,320.78 L99.10,321.68 L100.72,321.68 L100.72,322.56 L102.26,322.56 L102.26,323.80 L103.83,323.80 L103.83,325.77 L105.69,325.77 L105.69,326.81 L107.85,326.81 L107.85,327.30 L109.53,327.30 L109.53,328.02 L111.56,328.02 L111.56,328.45 L112.68,328.45 L112.68,328.92 L113.73,328.92 L113.73,329.21 L114.79,329.21 L114.79,329.70 L116.75,329.70 L116.75,330.43 L117.91,330.43 L117.91,330.76 L119.71,330.76 L119.71,331.07 L121.80,331.07 L121.80,331.71 L123.04,331.71 L123.04,331.94 L124.51,331.94 L124.51,332.08 L126.74,332.08 L126.74,332.83 L127.91,332.83 L127.91,333.05 L129.53,333.05 L129.53,333.50 L130.74,333.50 L130.74,333.88 L132.62,333.88 L132.62,334.54 L134.29,334.54 L134.29,335.32 L135.27,335.32 L135.27,335.68 L137.03,335.68 L137.03,336.44 L138.07,336.44 L138.07,337.00 L140.04,337.00 L140.04,337.79 L141.14,337.79 L141.14,338.02 L142.15,338.02 L142.15,338.58 L143.45,338.58 L143.45,338.91 L144.96,338.91 L144.96,339.73 L146.96,339.73 L146.96,340.34 L148.11,340.34 L148.11,340.93 L149.81,340.93 L149.81,341.30 L150.88,341.30 L150.88,341.40 L152.72,341.40 L152.72,342.25 L153.77,342.25 L153.77,342.83 L155.55,342.83 L155.55,343.51 L156.61,343.51 L156.61,343.93 L157.66,343.93 L157.66,344.12 L159.20,344.12 L159.20,344.24 L160.87,344.24 L160.87,344.72 L162.17,344.72 L162.17,344.72 L163.80,344.72 L163.80,345.05 L164.90,345.05 L164.90,345.17 L165.93,345.17 L165.93,345.29 L167.29,345.29 L167.29,345.46 L169.22,345.46 L169.22,345.66 L170.82,345.66 L170.82,345.79 L172.22,345.79 L172.22,345.89 L173.50,345.89 L173.50,346.02 L175.40,346.02 L175.40,346.40 L176.61,346.40 L176.61,346.52 L178.76,346.52 L178.76,346.66 L180.77,346.66 L180.77,346.99 L182.36,346.99 L182.36,347.89 L183.83,347.89 L183.83,348.71 L185.67,348.71 L185.67,348.91 L187.07,348.91 L187.07,348.91 L188.93,348.91 L188.93,348.91 L190.41,348.91 L190.41,348.91 L191.44,348.91 L191.44,348.91 L192.49,348.91 L192.49,349.06 L193.78,349.06 L193.78,349.06 L194.84,349.06 L194.84,349.10 L196.92,349.10 L196.92,349.10 L198.24,349.10 L198.24,349.10 L199.57,349.10 L199.57,349.10 L200.74,349.10 L200.74,349.10 L202.03,349.10 L202.03,349.14 L204.24,349.14 L204.24,349.14 L205.51,349.14 L205.51,349.14 L206.87,349.14 L206.87,349.14 L207.83,349.14 L207.83,349.14 L209.40,349.14 L209.40,349.14 L210.61,349.14 L210.61,349.14 L211.58,349.14 L211.58,349.14 L212.65,349.14 L212.65,349.14 L213.67,349.14 L213.67,349.14 L215.02,349.14 L215.02,349.14 L216.73,349.14 L216.73,349.14 L218.65,349.14 L218.65,349.14 L220.52,349.14 L220.52,349.14 L221.00,349.14 L221.00,349.14" fill="none" stroke="#b8223a" stroke-width="1.1"/>
<line x1="63.75" y1="297.33" x2="63.75" y2="299.33" stroke="#2d4f78" stroke-width="0.7"/>
<line x1="70.19" y1="299.56" x2="70.19" y2="301.56" stroke="#2d4f78" stroke-width="0.7"/>
<line x1="77.30" y1="302.91" x2="77.30" y2="304.91" stroke="#2d4f78" stroke-width="0.7"/>
<line x1="84.32" y1="305.26" x2="84.32" y2="307.26" stroke="#2d4f78" stroke-width="0.7"/>
<line x1="91.03" y1="309.07" x2="91.03" y2="311.07" stroke="#2d4f78" stroke-width="0.7"/>
<line x1="99.54" y1="312.16" x2="99.54" y2="314.16" stroke="#2d4f78" stroke-width="0.7"/>
<line x1="105.73" y1="317.37" x2="105.73" y2="319.37" stroke="#2d4f78" stroke-width="0.7"/>
<line x1="113.92" y1="323.00" x2="113.92" y2="325.00" stroke="#2d4f78" stroke-width="0.7"/>
<line x1="120.16" y1="324.45" x2="120.16" y2="326.45" stroke="#2d4f78" stroke-width="0.7"/>
<line x1="126.02" y1="325.49" x2="126.02" y2="327.49" stroke="#2d4f78" stroke-width="0.7"/>
<line x1="132.43" y1="327.63" x2="132.43" y2="329.63" stroke="#2d4f78" stroke-width="0.7"/>
<line x1="139.74" y1="330.95" x2="139.74" y2="332.95" stroke="#2d4f78" stroke-width="0.7"/>
<line x1="146.80" y1="332.53" x2="146.80" y2="334.53" stroke="#2d4f78" stroke-width="0.7"/>
<line x1="154.58" y1="333.75" x2="154.58" y2="335.75" stroke="#2d4f78" stroke-width="0.7"/>
<line x1="159.25" y1="336.17" x2="159.25" y2="338.17" stroke="#2d4f78" stroke-width="0.7"/>
<line x1="166.75" y1="337.47" x2="166.75" y2="339.47" stroke="#2d4f78" stroke-width="0.7"/>
<line x1="172.79" y1="338.74" x2="172.79" y2="340.74" stroke="#2d4f78" stroke-width="0.7"/>
<line x1="180.78" y1="340.36" x2="180.78" y2="342.36" stroke="#2d4f78" stroke-width="0.7"/>
<line x1="186.27" y1="341.68" x2="186.27" y2="343.68" stroke="#2d4f78" stroke-width="0.7"/>
<line x1="194.99" y1="342.51" x2="194.99" y2="344.51" stroke="#2d4f78" stroke-width="0.7"/>
<line x1="201.62" y1="344.41" x2="201.62" y2="346.41" stroke="#2d4f78" stroke-width="0.7"/>
<line x1="210.05" y1="344.81" x2="210.05" y2="346.81" stroke="#2d4f78" stroke-width="0.7"/>
<line x1="216.96" y1="348.09" x2="216.96" y2="350.09" stroke="#2d4f78" stroke-width="0.7"/>
<line x1="225.10" y1="348.13" x2="225.10" y2="350.13" stroke="#2d4f78" stroke-width="0.7"/>
<line x1="230.60" y1="348.13" x2="230.60" y2="350.13" stroke="#2d4f78" stroke-width="0.7"/>
<line x1="64.27" y1="300.37" x2="64.27" y2="302.37" stroke="#b8223a" stroke-width="0.7"/>
<line x1="71.65" y1="303.49" x2="71.65" y2="305.49" stroke="#b8223a" stroke-width="0.7"/>
<line x1="77.39" y1="308.23" x2="77.39" y2="310.23" stroke="#b8223a" stroke-width="0.7"/>
<line x1="84.29" y1="311.79" x2="84.29" y2="313.79" stroke="#b8223a" stroke-width="0.7"/>
<line x1="90.33" y1="315.72" x2="90.33" y2="317.72" stroke="#b8223a" stroke-width="0.7"/>
<line x1="99.10" y1="319.78" x2="99.10" y2="321.78" stroke="#b8223a" stroke-width="0.7"/>
<line x1="105.69" y1="325.81" x2="105.69" y2="327.81" stroke="#b8223a" stroke-width="0.7"/>
<line x1="113.73" y1="327.92" x2="113.73" y2="329.92" stroke="#b8223a" stroke-width="0.7"/>
<line x1="119.71" y1="330.07" x2="119.71" y2="332.07" stroke="#b8223a" stroke-width="0.7"/>
<line x1="127.91" y1="331.83" x2="127.91" y2="333.83" stroke="#b8223a" stroke-width="0.7"/>
<line x1="134.29" y1="334.32" x2="134.29" y2="336.32" stroke="#b8223a" stroke-width="0.7"/>
<line x1="141.14" y1="336.79" x2="141.14" y2="338.79" stroke="#b8223a" stroke-width="0.7"/>
<line x1="146.96" y1="339.34" x2="146.96" y2="341.34" stroke="#b8223a" stroke-width="0.7"/>
<line x1="153.77" y1="341.25" x2="153.77" y2="343.25" stroke="#b8223a" stroke-width="0.7"/>
<line x1="159.20" y1="343.24" x2="159.20" y2="345.24" stroke="#b8223a" stroke-width="0.7"/>
<line x1="165.93" y1="344.17" x2="165.93" y2="346.17" stroke="#b8223a" stroke-width="0.7"/>
<line x1="172.22" y1="344.89" x2="172.22" y2="346.89" stroke="#b8223a" stroke-width="0.7"/>
<line x1="180.77" y1="345.66" x2="180.77" y2="347.66" stroke="#b8223a" stroke-width="0.7"/>
<line x1="187.07" y1="347.91" x2="187.07" y2="349.91" stroke="#b8223a" stroke-width="0.7"/>
<line x1="193.78" y1="348.06" x2="193.78" y2="350.06" stroke="#b8223a" stroke-width="0.7"/>
<line x1="199.57" y1="348.10" x2="199.57" y2="350.10" stroke="#b8223a" stroke-width="0.7"/>
<line x1="206.87" y1="348.14" x2="206.87" y2="350.14" stroke="#b8223a" stroke-width="0.7"/>
<line x1="211.58" y1="348.14" x2="211.58" y2="350.14" stroke="#b8223a" stroke-width="0.7"/>
<line x1="218.65" y1="348.14" x2="218.65" y2="350.14" stroke="#b8223a" stroke-width="0.7"/>
<line x1="57.7" y1="330.5" x2="135.8" y2="330.5" stroke="#333" stroke-width="0.8" stroke-dasharray="1.8 1.6"/>
<line x1="115.0" y1="330.5" x2="115.0" y2="366.5" stroke="#333" stroke-width="0.8" stroke-dasharray="1.8 1.6"/>
<line x1="135.8" y1="330.5" x2="135.8" y2="366.5" stroke="#333" stroke-width="0.8" stroke-dasharray="1.8 1.6"/>
<path d="M48.4,294.6 L48.4,366.7 L244.70000000000002,366.7" fill="none" stroke="#222" stroke-width="1.45"/>
<line x1="45.199999999999996" y1="297.4" x2="48.4" y2="297.4" stroke="#222" stroke-width="1"/>
<text x="29.70" y="299.45" font-size="7" fill="#262626" font-weight="normal" textLength="12.20" lengthAdjust="spacingAndGlyphs" >1.00</text>
<line x1="45.199999999999996" y1="314.05" x2="48.4" y2="314.05" stroke="#222" stroke-width="1"/>
<text x="29.70" y="316.10" font-size="7" fill="#262626" font-weight="normal" textLength="12.20" lengthAdjust="spacingAndGlyphs" >0.75</text>
<line x1="45.199999999999996" y1="330.7" x2="48.4" y2="330.7" stroke="#222" stroke-width="1"/>
<text x="29.70" y="332.75" font-size="7" fill="#262626" font-weight="normal" textLength="12.20" lengthAdjust="spacingAndGlyphs" >0.50</text>
<line x1="45.199999999999996" y1="347.35" x2="48.4" y2="347.35" stroke="#222" stroke-width="1"/>
<text x="29.70" y="349.40" font-size="7" fill="#262626" font-weight="normal" textLength="12.20" lengthAdjust="spacingAndGlyphs" >0.25</text>
<line x1="45.199999999999996" y1="364.0" x2="48.4" y2="364.0" stroke="#222" stroke-width="1"/>
<text x="29.70" y="366.05" font-size="7" fill="#262626" font-weight="normal" textLength="12.20" lengthAdjust="spacingAndGlyphs" >0.00</text>
<line x1="57.70" y1="366.9" x2="57.70" y2="369.4" stroke="#222" stroke-width="1"/>
<text x="57.70" y="378.7" font-size="7" fill="#262626" text-anchor="middle">0</text>
<line x1="104.30" y1="366.9" x2="104.30" y2="369.4" stroke="#222" stroke-width="1"/>
<text x="104.30" y="378.7" font-size="7" fill="#262626" text-anchor="middle">2</text>
<line x1="150.90" y1="366.9" x2="150.90" y2="369.4" stroke="#222" stroke-width="1"/>
<text x="150.90" y="378.7" font-size="7" fill="#262626" text-anchor="middle">4</text>
<line x1="197.50" y1="366.9" x2="197.50" y2="369.4" stroke="#222" stroke-width="1"/>
<text x="197.50" y="378.7" font-size="7" fill="#262626" text-anchor="middle">6</text>
<line x1="244.10" y1="366.9" x2="244.10" y2="369.4" stroke="#222" stroke-width="1"/>
<text x="244.10" y="378.7" font-size="7" fill="#262626" text-anchor="middle">8</text>
<text x="149.20" y="390.80" font-size="9" fill="#262626" font-weight="normal" textLength="14.00" lengthAdjust="spacingAndGlyphs" >Time</text>
<text transform="translate(23.20,359.70) rotate(-90)" x="0" y="0" font-size="8.3" fill="#262626" textLength="58.50" lengthAdjust="spacingAndGlyphs">Survival probability</text>
<text x="59.5" y="353.7" font-size="6.6" fill="#262626"><tspan font-style="italic">P</tspan> = .015</text>
<text x="48.20" y="401.50" font-size="7" fill="#222" font-weight="normal" textLength="43.00" lengthAdjust="spacingAndGlyphs" >Number at risk</text>
<path d="M48.1,406.1 L48.1,445.2 L246.60000000000002,445.2" fill="none" stroke="#222" stroke-width="1.45"/>
<line x1="57.70" y1="445.2" x2="57.70" y2="447.6" stroke="#222" stroke-width="1"/>
<text x="57.70" y="457.2" font-size="7" fill="#262626" text-anchor="middle">0</text>
<line x1="104.30" y1="445.2" x2="104.30" y2="447.6" stroke="#222" stroke-width="1"/>
<text x="104.30" y="457.2" font-size="7" fill="#262626" text-anchor="middle">2</text>
<line x1="150.90" y1="445.2" x2="150.90" y2="447.6" stroke="#222" stroke-width="1"/>
<text x="150.90" y="457.2" font-size="7" fill="#262626" text-anchor="middle">4</text>
<line x1="197.50" y1="445.2" x2="197.50" y2="447.6" stroke="#222" stroke-width="1"/>
<text x="197.50" y="457.2" font-size="7" fill="#262626" text-anchor="middle">6</text>
<line x1="244.10" y1="445.2" x2="244.10" y2="447.6" stroke="#222" stroke-width="1"/>
<text x="244.10" y="457.2" font-size="7" fill="#262626" text-anchor="middle">8</text>
<text x="21.90" y="412.30" font-size="6.5" fill="#c83a58" font-weight="normal" textLength="23.10" lengthAdjust="spacingAndGlyphs" >Low HD</text>
<text x="29.20" y="419.80" font-size="6.5" fill="#c83a58" font-weight="normal" textLength="15.80" lengthAdjust="spacingAndGlyphs" >score</text>
<text x="19.80" y="432.30" font-size="6.5" fill="#3a5e90" font-weight="normal" textLength="25.20" lengthAdjust="spacingAndGlyphs" >High HD</text>
<text x="29.20" y="439.70" font-size="6.5" fill="#3a5e90" font-weight="normal" textLength="15.80" lengthAdjust="spacingAndGlyphs" >score</text>
<text transform="translate(15.20,433.90) rotate(-90)" x="0" y="0" font-size="9" fill="#262626" textLength="16.50" lengthAdjust="spacingAndGlyphs">Strata</text>
<text x="57.70" y="415.8" font-size="6.3" fill="#c83a58" text-anchor="middle">238</text>
<text x="57.70" y="435.8" font-size="6.3" fill="#3a5e90" text-anchor="middle">214</text>
<text x="104.30" y="415.8" font-size="6.3" fill="#c83a58" text-anchor="middle">120</text>
<text x="104.30" y="435.8" font-size="6.3" fill="#3a5e90" text-anchor="middle">133</text>
<text x="150.90" y="415.8" font-size="6.3" fill="#c83a58" text-anchor="middle">60</text>
<text x="150.90" y="435.8" font-size="6.3" fill="#3a5e90" text-anchor="middle">73</text>
<text x="197.50" y="415.8" font-size="6.3" fill="#c83a58" text-anchor="middle">5</text>
<text x="197.50" y="435.8" font-size="6.3" fill="#3a5e90" text-anchor="middle">12</text>
<text x="244.10" y="415.8" font-size="6.3" fill="#c83a58" text-anchor="middle">0</text>
<text x="244.10" y="435.8" font-size="6.3" fill="#3a5e90" text-anchor="middle">0</text>
<rect x="338.70" y="249.5" width="168.3" height="28.5" fill="none" stroke="#a4a4a4" stroke-width="0.9" stroke-dasharray="1.8 1.7"/>
<text x="359.40" y="261.30" font-size="8.3" fill="#262626" font-weight="normal" textLength="125.60" lengthAdjust="spacingAndGlyphs" >HD SIGNATURE IN COMMPASS</text>
<text x="366.30" y="271.50" font-size="8.3" fill="#262626" font-weight="normal" textLength="110.70" lengthAdjust="spacingAndGlyphs" >COHORT OF PATIENTS: OS</text>
<path d="M322.70,296.70 L324.92,296.70 L324.92,296.80 L326.81,296.80 L326.81,297.12 L327.82,297.12 L327.82,297.27 L329.93,297.27 L329.93,297.44 L331.82,297.44 L331.82,297.71 L332.96,297.71 L332.96,297.77 L334.57,297.77 L334.57,298.08 L336.56,298.08 L336.56,298.23 L338.27,298.23 L338.27,298.30 L340.10,298.30 L340.10,298.35 L341.35,298.35 L341.35,298.35 L342.48,298.35 L342.48,298.45 L343.58,298.45 L343.58,298.79 L345.25,298.79 L345.25,299.16 L347.02,299.16 L347.02,299.63 L348.60,299.63 L348.60,299.80 L350.58,299.80 L350.58,300.49 L352.19,300.49 L352.19,300.63 L353.99,300.63 L353.99,300.69 L355.89,300.69 L355.89,301.02 L356.95,301.02 L356.95,301.19 L358.84,301.19 L358.84,301.51 L360.75,301.51 L360.75,302.26 L362.34,302.26 L362.34,302.56 L363.91,302.56 L363.91,303.10 L365.86,303.10 L365.86,303.41 L367.64,303.41 L367.64,303.55 L368.79,303.55 L368.79,303.80 L370.70,303.80 L370.70,304.14 L372.39,304.14 L372.39,304.35 L373.42,304.35 L373.42,304.62 L375.24,304.62 L375.24,305.08 L377.07,305.08 L377.07,305.29 L378.69,305.29 L378.69,305.64 L380.25,305.64 L380.25,305.80 L382.35,305.80 L382.35,306.18 L384.56,306.18 L384.56,306.78 L385.55,306.78 L385.55,306.80 L387.55,306.80 L387.55,307.27 L389.09,307.27 L389.09,307.27 L390.32,307.27 L390.32,307.62 L391.55,307.62 L391.55,307.68 L392.69,307.68 L392.69,307.81 L394.87,307.81 L394.87,307.98 L396.88,307.98 L396.88,308.39 L398.97,308.39 L398.97,308.76 L400.23,308.76 L400.23,309.00 L401.81,309.00 L401.81,309.00 L402.78,309.00 L402.78,309.21 L404.31,309.21 L404.31,309.35 L405.45,309.35 L405.45,309.51 L406.82,309.51 L406.82,309.84 L407.78,309.84 L407.78,309.95 L409.82,309.95 L409.82,310.11 L411.96,310.11 L411.96,310.65 L414.07,310.65 L414.07,310.89 L415.51,310.89 L415.51,311.12 L417.75,311.12 L417.75,311.36 L419.17,311.36 L419.17,311.42 L420.48,311.42 L420.48,311.43 L421.57,311.43 L421.57,311.78 L422.90,311.78 L422.90,311.95 L424.18,311.95 L424.18,311.95 L425.79,311.96 L425.79,311.96 L427.23,311.97 L427.23,312.31 L429.32,312.32 L429.32,312.44 L431.09,312.44 L431.09,312.70 L433.25,312.71 L433.25,313.10 L435.14,313.11 L435.14,313.40 L437.03,313.41 L437.03,313.92 L438.96,313.92 L438.96,314.23 L440.28,314.24 L440.28,314.24 L442.43,314.24 L442.43,314.54 L443.99,314.55 L443.99,314.82 L445.33,314.82 L445.33,315.11 L447.54,315.12 L447.54,315.27 L449.34,315.27 L449.34,315.39 L451.02,315.39 L451.02,315.47 L452.19,315.47 L452.19,315.47 L453.42,315.47 L453.42,315.71 L455.01,315.71 L455.01,315.71 L457.13,315.71 L457.13,315.86 L458.67,315.86 L458.67,315.86 L459.88,315.86 L459.88,315.86 L461.27,315.86 L461.27,315.86 L462.54,315.86 L462.54,315.86 L464.23,315.86 L464.23,316.07 L466.15,316.07 L466.15,316.07 L467.64,316.07 L467.64,316.51 L469.08,316.51 L469.08,316.51 L470.12,316.51 L470.12,316.51 L472.32,316.51 L472.32,316.51 L473.92,316.51 L473.92,316.54 L475.99,316.54 L475.99,316.54 L477.29,316.54 L477.29,316.54 L478.77,316.54 L478.77,316.54 L480.95,316.54 L480.95,316.60 L483.02,316.60 L483.02,316.60 L484.03,316.60 L484.03,316.60 L486.13,316.60 L486.13,316.60 L487.84,316.60 L487.84,316.60 L489.30,316.60 L489.30,316.63 L491.32,316.63 L491.32,316.63 L493.53,316.63 L493.53,316.63 L494.63,316.63 L494.63,316.63 L496.25,316.63 L496.25,316.63 L498.42,316.63 L498.42,316.63 L500.21,316.63 L500.21,316.63 L501.75,316.63 L501.75,316.63 L502.76,316.63 L502.76,316.63 L504.02,316.63 L504.02,316.63 L505.81,316.63 L505.81,316.63 L506.93,316.63 L506.93,316.63 L508.71,316.63 L508.71,316.63 L509.00,316.63 L509.00,316.63 L509.00,327.63 L509.00,327.63 L508.71,327.63 L508.71,327.63 L506.93,327.63 L506.93,327.63 L505.81,327.63 L505.81,327.63 L504.02,327.63 L504.02,327.63 L502.76,327.63 L502.76,327.63 L501.75,327.63 L501.75,327.63 L500.21,327.63 L500.21,327.63 L498.42,327.63 L498.42,327.63 L496.25,327.63 L496.25,327.63 L494.63,327.63 L494.63,327.63 L493.53,327.63 L493.53,327.63 L491.32,327.63 L491.32,327.63 L489.30,327.63 L489.30,327.60 L487.84,327.60 L487.84,327.60 L486.13,327.60 L486.13,327.60 L484.03,327.60 L484.03,327.60 L483.02,327.60 L483.02,327.60 L480.95,327.60 L480.95,327.54 L478.77,327.54 L478.77,327.54 L477.29,327.54 L477.29,327.54 L475.99,327.54 L475.99,327.54 L473.92,327.54 L473.92,327.51 L472.32,327.51 L472.32,327.51 L470.12,327.51 L470.12,327.51 L469.08,327.51 L469.08,327.51 L467.64,327.51 L467.64,326.19 L466.15,325.93 L466.15,325.01 L464.23,324.65 L464.23,324.39 L462.54,324.37 L462.54,324.34 L461.27,324.33 L461.27,324.33 L459.88,324.31 L459.88,324.31 L458.67,324.30 L458.67,324.30 L457.13,324.28 L457.13,324.08 L455.01,324.06 L455.01,324.06 L453.42,324.04 L453.42,323.78 L452.19,323.76 L452.19,323.76 L451.02,323.75 L451.02,323.65 L449.34,323.63 L449.34,323.49 L447.54,323.47 L447.54,323.33 L445.33,323.31 L445.33,323.01 L443.99,323.00 L443.99,322.73 L442.43,322.71 L442.43,322.41 L440.28,322.39 L440.28,322.39 L438.96,322.37 L438.96,322.07 L437.03,322.04 L437.03,321.54 L435.14,321.51 L435.14,321.23 L433.25,321.20 L433.25,320.81 L431.09,320.78 L431.09,320.53 L429.32,320.51 L429.32,320.39 L427.23,320.36 L427.23,320.02 L425.79,320.00 L425.79,320.00 L424.18,319.98 L424.18,319.98 L422.90,319.97 L422.90,319.81 L421.57,319.79 L421.57,319.44 L420.48,319.43 L420.48,319.41 L419.17,319.39 L419.17,319.29 L417.75,319.26 L417.75,318.97 L415.51,318.94 L415.51,318.66 L414.07,318.64 L414.07,318.35 L411.96,318.32 L411.96,317.72 L409.82,317.69 L409.82,317.48 L407.78,317.45 L407.78,317.31 L406.82,317.29 L406.82,316.93 L405.45,316.91 L405.45,316.72 L404.31,316.70 L404.31,316.52 L402.78,316.49 L402.78,316.21 L401.81,316.20 L401.81,316.20 L400.23,316.17 L400.23,315.91 L398.97,315.88 L398.97,315.46 L396.88,315.43 L396.88,314.97 L394.87,314.93 L394.87,314.71 L392.69,314.67 L392.69,314.51 L391.55,314.49 L391.55,314.41 L390.32,314.39 L390.32,313.99 L389.09,313.97 L389.09,313.94 L387.55,313.92 L387.55,313.40 L385.55,313.37 L385.55,313.32 L384.56,313.30 L384.56,312.65 L382.35,312.62 L382.35,312.18 L380.25,312.15 L380.25,311.94 L378.69,311.92 L378.69,311.53 L377.07,311.50 L377.07,311.24 L375.24,311.21 L375.24,310.71 L373.42,310.67 L373.42,310.38 L372.39,310.37 L372.39,310.11 L370.70,310.08 L370.70,309.70 L368.79,309.66 L368.79,309.39 L367.64,309.37 L367.64,309.18 L365.86,309.15 L365.86,308.79 L363.91,308.76 L363.91,308.19 L362.34,308.16 L362.34,307.82 L360.75,307.79 L360.75,306.94 L358.84,306.85 L358.84,306.40 L356.95,306.29 L356.95,306.04 L355.89,305.98 L355.89,305.51 L353.99,305.40 L353.99,305.21 L352.19,305.10 L352.19,304.84 L350.58,304.75 L350.58,303.92 L348.60,303.80 L348.60,303.51 L347.02,303.42 L347.02,302.82 L345.25,302.72 L345.25,302.22 L343.58,302.12 L343.58,301.70 L342.48,301.64 L342.48,301.36 L341.35,301.29 L341.35,301.29 L340.10,301.22 L340.10,301.04 L338.27,300.93 L338.27,300.73 L336.56,300.63 L336.56,300.34 L334.57,300.22 L334.57,299.80 L332.96,299.70 L332.96,299.56 L331.82,299.49 L331.82,299.08 L329.93,298.96 L329.93,298.64 L327.82,298.52 L327.82,298.29 L326.81,298.23 L326.81,297.78 L324.92,297.67 L324.92,297.42 L322.70,297.30 Z" fill="#b8bfe6" opacity="0.6"/>
<path d="M322.70,296.70 L324.33,296.70 L324.33,297.13 L325.79,297.13 L325.79,297.37 L327.52,297.37 L327.52,297.72 L328.86,297.72 L328.86,298.20 L331.05,298.20 L331.05,298.82 L333.14,298.82 L333.14,299.25 L334.40,299.25 L334.40,299.46 L336.59,299.46 L336.59,300.00 L337.95,300.00 L337.95,300.00 L339.54,300.00 L339.54,300.47 L341.04,300.47 L341.04,300.73 L342.86,300.73 L342.86,301.40 L344.11,301.40 L344.11,301.41 L345.50,301.41 L345.50,301.84 L347.33,301.84 L347.33,302.19 L349.31,302.19 L349.31,302.85 L350.92,302.85 L350.92,303.08 L353.12,303.08 L353.12,303.62 L355.13,303.62 L355.13,304.07 L356.37,304.07 L356.37,304.54 L357.71,304.54 L357.71,304.93 L359.30,304.93 L359.30,305.06 L360.55,305.06 L360.55,305.42 L362.36,305.42 L362.36,306.04 L363.51,306.04 L363.51,306.16 L364.74,306.16 L364.74,306.57 L365.88,306.57 L365.88,306.57 L366.92,306.57 L366.92,306.78 L369.03,306.78 L369.03,307.30 L370.93,307.30 L370.93,307.68 L373.08,307.68 L373.08,307.86 L374.28,307.86 L374.28,308.25 L376.19,308.25 L376.19,308.32 L378.00,308.32 L378.00,308.75 L379.44,308.75 L379.44,309.00 L380.62,309.00 L380.62,309.12 L381.94,309.12 L381.94,309.48 L384.12,309.48 L384.12,309.83 L386.31,309.83 L386.31,310.27 L387.73,310.27 L387.73,310.72 L389.74,310.72 L389.74,310.96 L390.77,310.96 L390.77,311.15 L392.20,311.15 L392.20,311.54 L393.41,311.54 L393.41,311.59 L395.52,311.59 L395.52,311.78 L397.00,311.78 L397.00,312.17 L398.95,312.17 L398.95,312.17 L399.95,312.17 L399.95,312.26 L402.09,312.26 L402.09,312.72 L404.00,312.72 L404.00,313.28 L405.40,313.28 L405.40,313.36 L407.58,313.36 L407.58,313.88 L408.88,313.88 L408.88,314.14 L410.25,314.14 L410.25,314.25 L411.21,314.25 L411.21,314.57 L413.34,314.57 L413.34,314.91 L415.51,314.91 L415.51,315.07 L416.77,315.07 L416.77,315.32 L418.95,315.32 L418.95,315.65 L420.41,315.65 L420.41,315.65 L421.92,315.65 L421.92,315.74 L424.07,315.74 L424.07,315.84 L426.05,315.84 L426.05,316.22 L428.07,316.22 L428.07,316.45 L429.81,316.45 L429.81,316.50 L431.17,316.50 L431.17,316.83 L433.14,316.83 L433.14,317.46 L434.35,317.46 L434.35,318.10 L435.62,318.10 L435.62,318.36 L436.63,318.36 L436.63,318.85 L438.01,318.85 L438.01,319.28 L440.10,319.28 L440.10,319.74 L441.40,319.74 L441.40,319.75 L442.48,319.75 L442.48,320.10 L444.35,320.10 L444.35,320.49 L445.61,320.49 L445.61,320.76 L447.36,320.76 L447.36,321.21 L449.28,321.21 L449.28,321.45 L451.09,321.45 L451.09,321.45 L453.12,321.45 L453.12,321.45 L454.81,321.45 L454.81,322.00 L456.72,322.00 L456.72,322.92 L457.99,322.92 L457.99,323.48 L459.15,323.48 L459.15,323.69 L460.85,323.69 L460.85,323.69 L462.32,323.69 L462.32,324.51 L463.92,324.51 L463.92,325.08 L465.92,325.08 L465.92,325.08 L468.15,325.08 L468.15,325.08 L469.72,325.08 L469.72,325.12 L471.75,325.12 L471.75,325.16 L472.76,325.16 L472.76,325.16 L473.88,325.16 L473.88,325.16 L476.08,325.16 L476.08,325.16 L478.23,325.16 L478.23,325.16 L480.30,325.16 L480.30,325.16 L481.59,325.16 L481.59,325.18 L483.76,325.18 L483.76,325.18 L485.49,325.18 L485.49,325.18 L486.73,325.18 L486.73,325.18 L487.87,325.18 L487.87,325.18 L489.15,325.18 L489.15,325.18 L490.95,325.18 L490.95,325.18 L491.92,325.18 L491.92,325.18 L493.75,325.18 L493.75,325.18 L495.11,325.18 L495.11,325.18 L497.09,325.18 L497.09,325.19 L498.13,325.19 L498.13,325.19 L499.59,325.19 L499.59,325.21 L501.00,325.21 L501.00,325.21 L501.00,340.51 L501.00,340.51 L499.59,340.51 L499.59,340.49 L498.13,340.49 L498.13,340.49 L497.09,340.49 L497.09,340.48 L495.11,340.48 L495.11,340.48 L493.75,340.48 L493.75,340.48 L491.92,340.48 L491.92,340.48 L490.95,340.48 L490.95,340.48 L489.15,340.48 L489.15,340.48 L487.87,340.48 L487.87,340.48 L486.73,340.48 L486.73,340.48 L485.49,340.48 L485.49,340.48 L483.76,340.48 L483.76,340.48 L481.59,340.48 L481.59,340.46 L480.30,340.46 L480.30,340.46 L478.23,340.46 L478.23,340.46 L476.08,340.46 L476.08,340.46 L473.88,340.46 L473.88,340.46 L472.76,340.46 L472.76,340.46 L471.75,340.46 L471.75,340.42 L469.72,340.42 L469.72,340.35 L468.15,340.35 L468.15,340.35 L465.92,340.35 L465.92,339.34 L463.92,339.22 L463.92,337.84 L462.32,337.66 L462.32,335.99 L460.85,335.82 L460.85,335.09 L459.15,334.90 L459.15,334.11 L457.99,333.98 L457.99,333.22 L456.72,333.08 L456.72,331.88 L454.81,331.68 L454.81,330.86 L453.12,330.67 L453.12,330.24 L451.09,330.01 L451.09,329.89 L449.28,329.69 L449.28,329.23 L447.36,329.09 L447.36,328.58 L445.61,328.58 L445.61,328.28 L444.35,328.28 L444.35,327.83 L442.48,327.83 L442.48,327.43 L441.40,327.43 L441.40,327.38 L440.10,327.38 L440.10,326.86 L438.01,326.86 L438.01,326.39 L436.63,326.39 L436.63,325.86 L435.62,325.86 L435.62,325.56 L434.35,325.56 L434.35,324.88 L433.14,324.88 L433.14,324.19 L431.17,324.19 L431.17,323.81 L429.81,323.81 L429.81,323.71 L428.07,323.71 L428.07,323.41 L426.05,323.41 L426.05,322.97 L424.07,322.97 L424.07,322.80 L421.92,322.80 L421.92,322.64 L420.41,322.64 L420.41,322.64 L418.95,322.64 L418.95,322.27 L416.77,322.27 L416.77,322.00 L415.51,322.00 L415.51,321.80 L413.34,321.80 L413.34,321.42 L411.21,321.42 L411.21,321.09 L410.25,321.09 L410.25,320.95 L408.88,320.95 L408.88,320.67 L407.58,320.67 L407.58,320.12 L405.40,320.12 L405.40,320.01 L404.00,320.01 L404.00,319.42 L402.09,319.42 L402.09,318.92 L399.95,318.92 L399.95,318.78 L398.95,318.78 L398.95,318.78 L397.00,318.78 L397.00,318.38 L395.52,318.38 L395.52,318.15 L393.41,318.15 L393.41,318.08 L392.20,318.08 L392.20,317.66 L390.77,317.66 L390.77,317.45 L389.74,317.45 L389.74,317.18 L387.73,317.18 L387.73,316.71 L386.31,316.71 L386.31,316.23 L384.12,316.23 L384.12,315.85 L381.94,315.85 L381.94,315.47 L380.62,315.47 L380.62,315.32 L379.44,315.32 L379.44,315.05 L378.00,315.05 L378.00,314.59 L376.19,314.59 L376.19,314.49 L374.28,314.49 L374.28,314.08 L373.08,314.08 L373.08,313.86 L370.93,313.86 L370.93,313.45 L369.03,313.45 L369.03,312.90 L366.92,312.90 L366.92,312.65 L365.88,312.65 L365.88,312.65 L364.74,312.65 L364.74,312.22 L363.51,312.22 L363.51,312.07 L362.36,312.07 L362.36,311.43 L360.55,311.43 L360.55,311.02 L359.30,310.96 L359.30,310.73 L357.71,310.60 L357.71,310.13 L356.37,310.01 L356.37,309.47 L355.13,309.36 L355.13,308.79 L353.12,308.62 L353.12,307.95 L350.92,307.76 L350.92,307.43 L349.31,307.29 L349.31,306.52 L347.33,306.35 L347.33,305.89 L345.50,305.73 L345.50,305.22 L344.11,305.10 L344.11,305.01 L342.86,304.90 L342.86,304.13 L341.04,303.97 L341.04,303.63 L339.54,303.50 L339.54,302.93 L337.95,302.79 L337.95,302.71 L336.59,302.59 L336.59,301.92 L334.40,301.73 L334.40,301.45 L333.14,301.34 L333.14,300.78 L331.05,300.60 L331.05,299.86 L328.86,299.67 L328.86,299.11 L327.52,299.00 L327.52,298.54 L325.79,298.39 L325.79,298.06 L324.33,297.94 L324.33,297.42 L322.70,297.30 Z" fill="#f3a4ac" opacity="0.5"/>
<path d="M322.70,297.00 L324.92,297.00 L324.92,297.25 L326.81,297.25 L326.81,297.70 L327.82,297.70 L327.82,297.92 L329.93,297.92 L329.93,298.25 L331.82,298.25 L331.82,298.66 L332.96,298.66 L332.96,298.81 L334.57,298.81 L334.57,299.23 L336.56,299.23 L336.56,299.52 L338.27,299.52 L338.27,299.72 L340.10,299.72 L340.10,299.90 L341.35,299.90 L341.35,299.90 L342.48,299.90 L342.48,300.18 L343.58,300.18 L343.58,300.59 L345.25,300.59 L345.25,301.09 L347.02,301.09 L347.02,301.69 L348.60,301.69 L348.60,301.97 L350.58,301.97 L350.58,302.81 L352.19,302.81 L352.19,303.07 L353.99,303.07 L353.99,303.26 L355.89,303.26 L355.89,303.72 L356.95,303.72 L356.95,303.97 L358.84,303.97 L358.84,304.42 L360.75,304.42 L360.75,305.28 L362.34,305.28 L362.34,305.62 L363.91,305.62 L363.91,306.20 L365.86,306.20 L365.86,306.56 L367.64,306.56 L367.64,306.74 L368.79,306.74 L368.79,307.02 L370.70,307.02 L370.70,307.40 L372.39,307.40 L372.39,307.66 L373.42,307.66 L373.42,307.95 L375.24,307.95 L375.24,308.46 L377.07,308.46 L377.07,308.72 L378.69,308.72 L378.69,309.10 L380.25,309.10 L380.25,309.31 L382.35,309.31 L382.35,309.74 L384.56,309.74 L384.56,310.40 L385.55,310.40 L385.55,310.44 L387.55,310.44 L387.55,310.96 L389.09,310.96 L389.09,310.99 L390.32,310.99 L390.32,311.38 L391.55,311.38 L391.55,311.46 L392.69,311.46 L392.69,311.63 L394.87,311.63 L394.87,311.85 L396.88,311.85 L396.88,312.31 L398.97,312.31 L398.97,312.74 L400.23,312.74 L400.23,313.00 L401.81,313.00 L401.81,313.00 L402.78,313.00 L402.78,313.28 L404.31,313.28 L404.31,313.46 L405.45,313.46 L405.45,313.65 L406.82,313.65 L406.82,314.01 L407.78,314.01 L407.78,314.15 L409.82,314.15 L409.82,314.36 L411.96,314.36 L411.96,314.95 L414.07,314.95 L414.07,315.24 L415.51,315.24 L415.51,315.51 L417.75,315.51 L417.75,315.80 L419.17,315.80 L419.17,315.90 L420.48,315.90 L420.48,315.92 L421.57,315.92 L421.57,316.27 L422.90,316.27 L422.90,316.44 L424.18,316.44 L424.18,316.44 L425.79,316.44 L425.79,316.44 L427.23,316.44 L427.23,316.78 L429.32,316.78 L429.32,316.90 L431.09,316.90 L431.09,317.16 L433.25,317.16 L433.25,317.56 L435.14,317.56 L435.14,317.85 L437.03,317.85 L437.03,318.35 L438.96,318.35 L438.96,318.66 L440.28,318.66 L440.28,318.66 L442.43,318.66 L442.43,318.96 L443.99,318.96 L443.99,319.23 L445.33,319.23 L445.33,319.52 L447.54,319.52 L447.54,319.67 L449.34,319.67 L449.34,319.80 L451.02,319.80 L451.02,319.91 L452.19,319.91 L452.19,319.91 L453.42,319.91 L453.42,320.17 L455.01,320.17 L455.01,320.17 L457.13,320.17 L457.13,320.37 L458.67,320.37 L458.67,320.37 L459.88,320.37 L459.88,320.37 L461.27,320.37 L461.27,320.37 L462.54,320.37 L462.54,320.40 L464.23,320.40 L464.23,320.66 L466.15,320.66 L466.15,321.59 L467.64,321.59 L467.64,322.91 L469.08,322.91 L469.08,322.91 L470.12,322.91 L470.12,322.91 L472.32,322.91 L472.32,322.91 L473.92,322.91 L473.92,322.94 L475.99,322.94 L475.99,322.94 L477.29,322.94 L477.29,322.94 L478.77,322.94 L478.77,322.94 L480.95,322.94 L480.95,323.00 L483.02,323.00 L483.02,323.00 L484.03,323.00 L484.03,323.00 L486.13,323.00 L486.13,323.00 L487.84,323.00 L487.84,323.00 L489.30,323.00 L489.30,323.03 L491.32,323.03 L491.32,323.03 L493.53,323.03 L493.53,323.03 L494.63,323.03 L494.63,323.03 L496.25,323.03 L496.25,323.03 L498.42,323.03 L498.42,323.03 L500.21,323.03 L500.21,323.03 L501.75,323.03 L501.75,323.03 L502.76,323.03 L502.76,323.03 L504.02,323.03 L504.02,323.03 L505.81,323.03 L505.81,323.03 L506.93,323.03 L506.93,323.03 L508.71,323.03 L508.71,323.03 L509.00,323.03 L509.00,323.03" fill="none" stroke="#2d4f78" stroke-width="1.1"/>
<path d="M322.70,297.00 L324.33,297.00 L324.33,297.51 L325.79,297.51 L325.79,297.84 L327.52,297.84 L327.52,298.30 L328.86,298.30 L328.86,298.86 L331.05,298.86 L331.05,299.60 L333.14,299.60 L333.14,300.16 L334.40,300.16 L334.40,300.44 L336.59,300.44 L336.59,301.11 L337.95,301.11 L337.95,301.19 L339.54,301.19 L339.54,301.76 L341.04,301.76 L341.04,302.11 L342.86,302.11 L342.86,302.88 L344.11,302.88 L344.11,302.97 L345.50,302.97 L345.50,303.48 L347.33,303.48 L347.33,303.94 L349.31,303.94 L349.31,304.71 L350.92,304.71 L350.92,305.05 L353.12,305.05 L353.12,305.72 L355.13,305.72 L355.13,306.28 L356.37,306.28 L356.37,306.82 L357.71,306.82 L357.71,307.29 L359.30,307.29 L359.30,307.52 L360.55,307.52 L360.55,307.93 L362.36,307.93 L362.36,308.57 L363.51,308.57 L363.51,308.72 L364.74,308.72 L364.74,309.15 L365.88,309.15 L365.88,309.15 L366.92,309.15 L366.92,309.40 L369.03,309.40 L369.03,309.95 L370.93,309.95 L370.93,310.36 L373.08,310.36 L373.08,310.58 L374.28,310.58 L374.28,310.99 L376.19,310.99 L376.19,311.09 L378.00,311.09 L378.00,311.55 L379.44,311.55 L379.44,311.82 L380.62,311.82 L380.62,311.97 L381.94,311.97 L381.94,312.35 L384.12,312.35 L384.12,312.73 L386.31,312.73 L386.31,313.21 L387.73,313.21 L387.73,313.68 L389.74,313.68 L389.74,313.95 L390.77,313.95 L390.77,314.16 L392.20,314.16 L392.20,314.58 L393.41,314.58 L393.41,314.65 L395.52,314.65 L395.52,314.88 L397.00,314.88 L397.00,315.28 L398.95,315.28 L398.95,315.28 L399.95,315.28 L399.95,315.42 L402.09,315.42 L402.09,315.92 L404.00,315.92 L404.00,316.51 L405.40,316.51 L405.40,316.62 L407.58,316.62 L407.58,317.17 L408.88,317.17 L408.88,317.45 L410.25,317.45 L410.25,317.59 L411.21,317.59 L411.21,317.92 L413.34,317.92 L413.34,318.30 L415.51,318.30 L415.51,318.50 L416.77,318.50 L416.77,318.77 L418.95,318.77 L418.95,319.14 L420.41,319.14 L420.41,319.14 L421.92,319.14 L421.92,319.31 L424.07,319.31 L424.07,319.49 L426.05,319.49 L426.05,319.94 L428.07,319.94 L428.07,320.23 L429.81,320.23 L429.81,320.35 L431.17,320.35 L431.17,320.73 L433.14,320.73 L433.14,321.43 L434.35,321.43 L434.35,322.12 L435.62,322.12 L435.62,322.42 L436.63,322.42 L436.63,322.95 L438.01,322.95 L438.01,323.42 L440.10,323.42 L440.10,323.95 L441.40,323.95 L441.40,324.01 L442.48,324.01 L442.48,324.41 L444.35,324.41 L444.35,324.86 L445.61,324.86 L445.61,325.17 L447.36,325.17 L447.36,325.69 L449.28,325.69 L449.28,326.15 L451.09,326.15 L451.09,326.27 L453.12,326.27 L453.12,326.71 L454.81,326.71 L454.81,327.53 L456.72,327.53 L456.72,328.73 L457.99,328.73 L457.99,329.48 L459.15,329.48 L459.15,330.27 L460.85,330.27 L460.85,331.00 L462.32,331.00 L462.32,332.66 L463.92,332.66 L463.92,334.04 L465.92,334.04 L465.92,335.05 L468.15,335.05 L468.15,335.05 L469.72,335.05 L469.72,335.12 L471.75,335.12 L471.75,335.16 L472.76,335.16 L472.76,335.16 L473.88,335.16 L473.88,335.16 L476.08,335.16 L476.08,335.16 L478.23,335.16 L478.23,335.16 L480.30,335.16 L480.30,335.16 L481.59,335.16 L481.59,335.18 L483.76,335.18 L483.76,335.18 L485.49,335.18 L485.49,335.18 L486.73,335.18 L486.73,335.18 L487.87,335.18 L487.87,335.18 L489.15,335.18 L489.15,335.18 L490.95,335.18 L490.95,335.18 L491.92,335.18 L491.92,335.18 L493.75,335.18 L493.75,335.18 L495.11,335.18 L495.11,335.18 L497.09,335.18 L497.09,335.19 L498.13,335.19 L498.13,335.19 L499.59,335.19 L499.59,335.21 L501.00,335.21 L501.00,335.21" fill="none" stroke="#b8223a" stroke-width="1.1"/>
<line x1="329.93" y1="297.25" x2="329.93" y2="299.25" stroke="#2d4f78" stroke-width="0.7"/>
<line x1="338.27" y1="298.52" x2="338.27" y2="300.52" stroke="#2d4f78" stroke-width="0.7"/>
<line x1="343.58" y1="299.59" x2="343.58" y2="301.59" stroke="#2d4f78" stroke-width="0.7"/>
<line x1="352.19" y1="301.81" x2="352.19" y2="303.81" stroke="#2d4f78" stroke-width="0.7"/>
<line x1="358.84" y1="303.42" x2="358.84" y2="305.42" stroke="#2d4f78" stroke-width="0.7"/>
<line x1="367.64" y1="305.56" x2="367.64" y2="307.56" stroke="#2d4f78" stroke-width="0.7"/>
<line x1="373.42" y1="306.95" x2="373.42" y2="308.95" stroke="#2d4f78" stroke-width="0.7"/>
<line x1="382.35" y1="308.31" x2="382.35" y2="310.31" stroke="#2d4f78" stroke-width="0.7"/>
<line x1="389.09" y1="309.99" x2="389.09" y2="311.99" stroke="#2d4f78" stroke-width="0.7"/>
<line x1="396.88" y1="310.85" x2="396.88" y2="312.85" stroke="#2d4f78" stroke-width="0.7"/>
<line x1="402.78" y1="312.28" x2="402.78" y2="314.28" stroke="#2d4f78" stroke-width="0.7"/>
<line x1="409.82" y1="313.15" x2="409.82" y2="315.15" stroke="#2d4f78" stroke-width="0.7"/>
<line x1="417.75" y1="314.80" x2="417.75" y2="316.80" stroke="#2d4f78" stroke-width="0.7"/>
<line x1="424.18" y1="315.44" x2="424.18" y2="317.44" stroke="#2d4f78" stroke-width="0.7"/>
<line x1="431.09" y1="316.16" x2="431.09" y2="318.16" stroke="#2d4f78" stroke-width="0.7"/>
<line x1="440.28" y1="317.66" x2="440.28" y2="319.66" stroke="#2d4f78" stroke-width="0.7"/>
<line x1="447.54" y1="318.67" x2="447.54" y2="320.67" stroke="#2d4f78" stroke-width="0.7"/>
<line x1="455.01" y1="319.17" x2="455.01" y2="321.17" stroke="#2d4f78" stroke-width="0.7"/>
<line x1="461.27" y1="319.37" x2="461.27" y2="321.37" stroke="#2d4f78" stroke-width="0.7"/>
<line x1="469.08" y1="321.91" x2="469.08" y2="323.91" stroke="#2d4f78" stroke-width="0.7"/>
<line x1="475.99" y1="321.94" x2="475.99" y2="323.94" stroke="#2d4f78" stroke-width="0.7"/>
<line x1="484.03" y1="322.00" x2="484.03" y2="324.00" stroke="#2d4f78" stroke-width="0.7"/>
<line x1="491.32" y1="322.03" x2="491.32" y2="324.03" stroke="#2d4f78" stroke-width="0.7"/>
<line x1="500.21" y1="322.03" x2="500.21" y2="324.03" stroke="#2d4f78" stroke-width="0.7"/>
<line x1="505.81" y1="322.03" x2="505.81" y2="324.03" stroke="#2d4f78" stroke-width="0.7"/>
<line x1="328.86" y1="297.86" x2="328.86" y2="299.86" stroke="#b8223a" stroke-width="0.7"/>
<line x1="337.95" y1="300.11" x2="337.95" y2="302.11" stroke="#b8223a" stroke-width="0.7"/>
<line x1="344.11" y1="301.97" x2="344.11" y2="303.97" stroke="#b8223a" stroke-width="0.7"/>
<line x1="353.12" y1="304.05" x2="353.12" y2="306.05" stroke="#b8223a" stroke-width="0.7"/>
<line x1="359.30" y1="306.52" x2="359.30" y2="308.52" stroke="#b8223a" stroke-width="0.7"/>
<line x1="365.88" y1="308.15" x2="365.88" y2="310.15" stroke="#b8223a" stroke-width="0.7"/>
<line x1="373.08" y1="309.58" x2="373.08" y2="311.58" stroke="#b8223a" stroke-width="0.7"/>
<line x1="380.62" y1="310.82" x2="380.62" y2="312.82" stroke="#b8223a" stroke-width="0.7"/>
<line x1="387.73" y1="312.68" x2="387.73" y2="314.68" stroke="#b8223a" stroke-width="0.7"/>
<line x1="395.52" y1="313.65" x2="395.52" y2="315.65" stroke="#b8223a" stroke-width="0.7"/>
<line x1="402.09" y1="314.92" x2="402.09" y2="316.92" stroke="#b8223a" stroke-width="0.7"/>
<line x1="410.25" y1="316.45" x2="410.25" y2="318.45" stroke="#b8223a" stroke-width="0.7"/>
<line x1="416.77" y1="317.77" x2="416.77" y2="319.77" stroke="#b8223a" stroke-width="0.7"/>
<line x1="426.05" y1="318.49" x2="426.05" y2="320.49" stroke="#b8223a" stroke-width="0.7"/>
<line x1="433.14" y1="320.43" x2="433.14" y2="322.43" stroke="#b8223a" stroke-width="0.7"/>
<line x1="440.10" y1="322.42" x2="440.10" y2="324.42" stroke="#b8223a" stroke-width="0.7"/>
<line x1="445.61" y1="324.17" x2="445.61" y2="326.17" stroke="#b8223a" stroke-width="0.7"/>
<line x1="454.81" y1="325.71" x2="454.81" y2="327.71" stroke="#b8223a" stroke-width="0.7"/>
<line x1="460.85" y1="330.00" x2="460.85" y2="332.00" stroke="#b8223a" stroke-width="0.7"/>
<line x1="469.72" y1="334.05" x2="469.72" y2="336.05" stroke="#b8223a" stroke-width="0.7"/>
<line x1="476.08" y1="334.16" x2="476.08" y2="336.16" stroke="#b8223a" stroke-width="0.7"/>
<line x1="485.49" y1="334.18" x2="485.49" y2="336.18" stroke="#b8223a" stroke-width="0.7"/>
<line x1="490.95" y1="334.18" x2="490.95" y2="336.18" stroke="#b8223a" stroke-width="0.7"/>
<line x1="498.13" y1="334.19" x2="498.13" y2="336.19" stroke="#b8223a" stroke-width="0.7"/>
<line x1="323.09999999999997" y1="330.5" x2="460.5" y2="330.5" stroke="#333" stroke-width="0.8" stroke-dasharray="1.8 1.6"/>
<line x1="460.5" y1="330.5" x2="460.5" y2="366.5" stroke="#333" stroke-width="0.8" stroke-dasharray="1.8 1.6"/>
<path d="M313.79999999999995,294.6 L313.79999999999995,366.7 L510.1,366.7" fill="none" stroke="#222" stroke-width="1.45"/>
<line x1="310.59999999999997" y1="297.4" x2="313.79999999999995" y2="297.4" stroke="#222" stroke-width="1"/>
<text x="295.10" y="299.45" font-size="7" fill="#262626" font-weight="normal" textLength="12.20" lengthAdjust="spacingAndGlyphs" >1.00</text>
<line x1="310.59999999999997" y1="314.05" x2="313.79999999999995" y2="314.05" stroke="#222" stroke-width="1"/>
<text x="295.10" y="316.10" font-size="7" fill="#262626" font-weight="normal" textLength="12.20" lengthAdjust="spacingAndGlyphs" >0.75</text>
<line x1="310.59999999999997" y1="330.7" x2="313.79999999999995" y2="330.7" stroke="#222" stroke-width="1"/>
<text x="295.10" y="332.75" font-size="7" fill="#262626" font-weight="normal" textLength="12.20" lengthAdjust="spacingAndGlyphs" >0.50</text>
<line x1="310.59999999999997" y1="347.35" x2="313.79999999999995" y2="347.35" stroke="#222" stroke-width="1"/>
<text x="295.10" y="349.40" font-size="7" fill="#262626" font-weight="normal" textLength="12.20" lengthAdjust="spacingAndGlyphs" >0.25</text>
<line x1="310.59999999999997" y1="364.0" x2="313.79999999999995" y2="364.0" stroke="#222" stroke-width="1"/>
<text x="295.10" y="366.05" font-size="7" fill="#262626" font-weight="normal" textLength="12.20" lengthAdjust="spacingAndGlyphs" >0.00</text>
<line x1="323.10" y1="366.9" x2="323.10" y2="369.4" stroke="#222" stroke-width="1"/>
<text x="323.10" y="378.7" font-size="7" fill="#262626" text-anchor="middle">0</text>
<line x1="369.70" y1="366.9" x2="369.70" y2="369.4" stroke="#222" stroke-width="1"/>
<text x="369.70" y="378.7" font-size="7" fill="#262626" text-anchor="middle">2</text>
<line x1="416.30" y1="366.9" x2="416.30" y2="369.4" stroke="#222" stroke-width="1"/>
<text x="416.30" y="378.7" font-size="7" fill="#262626" text-anchor="middle">4</text>
<line x1="462.90" y1="366.9" x2="462.90" y2="369.4" stroke="#222" stroke-width="1"/>
<text x="462.90" y="378.7" font-size="7" fill="#262626" text-anchor="middle">6</text>
<line x1="509.50" y1="366.9" x2="509.50" y2="369.4" stroke="#222" stroke-width="1"/>
<text x="509.50" y="378.7" font-size="7" fill="#262626" text-anchor="middle">8</text>
<text x="414.60" y="390.80" font-size="9" fill="#262626" font-weight="normal" textLength="14.00" lengthAdjust="spacingAndGlyphs" >Time</text>
<text transform="translate(288.60,359.70) rotate(-90)" x="0" y="0" font-size="8.3" fill="#262626" textLength="58.50" lengthAdjust="spacingAndGlyphs">Survival probability</text>
<text x="324.9" y="353.7" font-size="6.6" fill="#262626"><tspan font-style="italic">P</tspan> = .048</text>
<text x="313.60" y="401.50" font-size="7" fill="#222" font-weight="normal" textLength="43.00" lengthAdjust="spacingAndGlyphs" >Number at risk</text>
<path d="M313.5,406.1 L313.5,445.2 L512.0,445.2" fill="none" stroke="#222" stroke-width="1.45"/>
<line x1="323.10" y1="445.2" x2="323.10" y2="447.6" stroke="#222" stroke-width="1"/>
<text x="323.10" y="457.2" font-size="7" fill="#262626" text-anchor="middle">0</text>
<line x1="369.70" y1="445.2" x2="369.70" y2="447.6" stroke="#222" stroke-width="1"/>
<text x="369.70" y="457.2" font-size="7" fill="#262626" text-anchor="middle">2</text>
<line x1="416.30" y1="445.2" x2="416.30" y2="447.6" stroke="#222" stroke-width="1"/>
<text x="416.30" y="457.2" font-size="7" fill="#262626" text-anchor="middle">4</text>
<line x1="462.90" y1="445.2" x2="462.90" y2="447.6" stroke="#222" stroke-width="1"/>
<text x="462.90" y="457.2" font-size="7" fill="#262626" text-anchor="middle">6</text>
<line x1="509.50" y1="445.2" x2="509.50" y2="447.6" stroke="#222" stroke-width="1"/>
<text x="509.50" y="457.2" font-size="7" fill="#262626" text-anchor="middle">8</text>
<text x="287.30" y="412.30" font-size="6.5" fill="#c83a58" font-weight="normal" textLength="23.10" lengthAdjust="spacingAndGlyphs" >Low HD</text>
<text x="294.60" y="419.80" font-size="6.5" fill="#c83a58" font-weight="normal" textLength="15.80" lengthAdjust="spacingAndGlyphs" >score</text>
<text x="285.20" y="432.30" font-size="6.5" fill="#3a5e90" font-weight="normal" textLength="25.20" lengthAdjust="spacingAndGlyphs" >High HD</text>
<text x="294.60" y="439.70" font-size="6.5" fill="#3a5e90" font-weight="normal" textLength="15.80" lengthAdjust="spacingAndGlyphs" >score</text>
<text transform="translate(280.60,433.90) rotate(-90)" x="0" y="0" font-size="9" fill="#262626" textLength="16.50" lengthAdjust="spacingAndGlyphs">Strata</text>
<text x="323.10" y="415.8" font-size="6.3" fill="#c83a58" text-anchor="middle">240</text>
<text x="323.10" y="435.8" font-size="6.3" fill="#3a5e90" text-anchor="middle">215</text>
<text x="369.70" y="415.8" font-size="6.3" fill="#c83a58" text-anchor="middle">172</text>
<text x="369.70" y="435.8" font-size="6.3" fill="#3a5e90" text-anchor="middle">162</text>
<text x="416.30" y="415.8" font-size="6.3" fill="#c83a58" text-anchor="middle">129</text>
<text x="416.30" y="435.8" font-size="6.3" fill="#3a5e90" text-anchor="middle">123</text>
<text x="462.90" y="415.8" font-size="6.3" fill="#c83a58" text-anchor="middle">19</text>
<text x="462.90" y="435.8" font-size="6.3" fill="#3a5e90" text-anchor="middle">23</text>
<text x="509.50" y="415.8" font-size="6.3" fill="#c83a58" text-anchor="middle">0</text>
<text x="509.50" y="435.8" font-size="6.3" fill="#3a5e90" text-anchor="middle">0</text>
</svg>
</body></html>
